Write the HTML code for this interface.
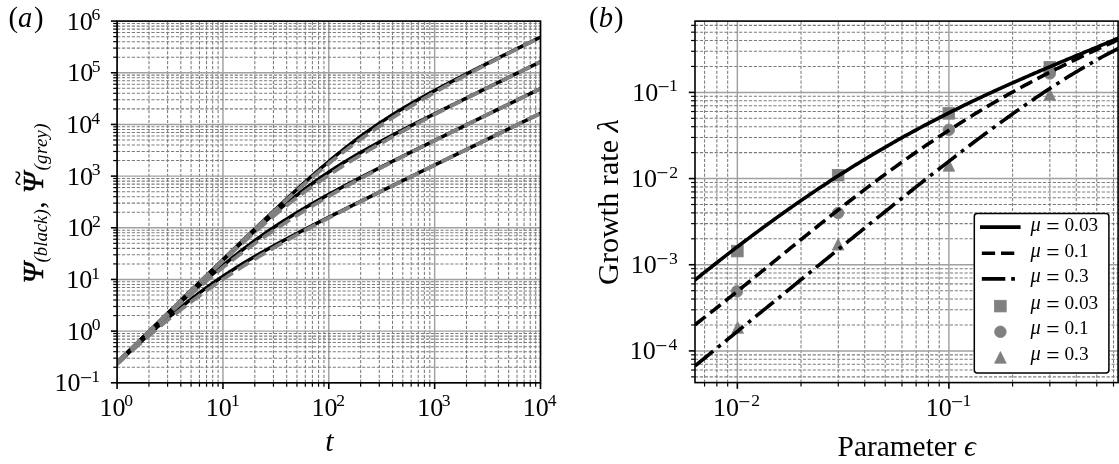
<!DOCTYPE html>
<html><head><meta charset="utf-8"><title>Figure</title>
<style>html,body{margin:0;padding:0;background:#fff;}svg{display:block;}</style>
</head><body>
<svg width="1119" height="464" viewBox="0 0 1119 464">
<rect width="1119" height="464" fill="#fff"/>
<defs><clipPath id="ca"><rect x="117.1" y="21.1" width="423.4" height="361.7"/></clipPath>
<clipPath id="cb"><rect x="695" y="21.1" width="423.1" height="361.5"/></clipPath></defs>
<g>
<line x1="117.1" y1="382.8" x2="117.1" y2="21.1" stroke="#a0a0a0" stroke-width="1.45" stroke-linecap="butt"/>
<line x1="222.95" y1="382.8" x2="222.95" y2="21.1" stroke="#a0a0a0" stroke-width="1.45" stroke-linecap="butt"/>
<line x1="328.8" y1="382.8" x2="328.8" y2="21.1" stroke="#a0a0a0" stroke-width="1.45" stroke-linecap="butt"/>
<line x1="434.65" y1="382.8" x2="434.65" y2="21.1" stroke="#a0a0a0" stroke-width="1.45" stroke-linecap="butt"/>
<line x1="540.5" y1="382.8" x2="540.5" y2="21.1" stroke="#a0a0a0" stroke-width="1.45" stroke-linecap="butt"/>
<line x1="148.96" y1="382.8" x2="148.96" y2="21.1" stroke="#7c7c7c" stroke-width="1.05" stroke-linecap="butt" stroke-dasharray="3.2 1.7"/>
<line x1="167.6" y1="382.8" x2="167.6" y2="21.1" stroke="#7c7c7c" stroke-width="1.05" stroke-linecap="butt" stroke-dasharray="3.2 1.7"/>
<line x1="180.83" y1="382.8" x2="180.83" y2="21.1" stroke="#7c7c7c" stroke-width="1.05" stroke-linecap="butt" stroke-dasharray="3.2 1.7"/>
<line x1="191.09" y1="382.8" x2="191.09" y2="21.1" stroke="#7c7c7c" stroke-width="1.05" stroke-linecap="butt" stroke-dasharray="3.2 1.7"/>
<line x1="199.47" y1="382.8" x2="199.47" y2="21.1" stroke="#7c7c7c" stroke-width="1.05" stroke-linecap="butt" stroke-dasharray="3.2 1.7"/>
<line x1="206.55" y1="382.8" x2="206.55" y2="21.1" stroke="#7c7c7c" stroke-width="1.05" stroke-linecap="butt" stroke-dasharray="3.2 1.7"/>
<line x1="212.69" y1="382.8" x2="212.69" y2="21.1" stroke="#7c7c7c" stroke-width="1.05" stroke-linecap="butt" stroke-dasharray="3.2 1.7"/>
<line x1="218.11" y1="382.8" x2="218.11" y2="21.1" stroke="#7c7c7c" stroke-width="1.05" stroke-linecap="butt" stroke-dasharray="3.2 1.7"/>
<line x1="254.81" y1="382.8" x2="254.81" y2="21.1" stroke="#7c7c7c" stroke-width="1.05" stroke-linecap="butt" stroke-dasharray="3.2 1.7"/>
<line x1="273.45" y1="382.8" x2="273.45" y2="21.1" stroke="#7c7c7c" stroke-width="1.05" stroke-linecap="butt" stroke-dasharray="3.2 1.7"/>
<line x1="286.68" y1="382.8" x2="286.68" y2="21.1" stroke="#7c7c7c" stroke-width="1.05" stroke-linecap="butt" stroke-dasharray="3.2 1.7"/>
<line x1="296.94" y1="382.8" x2="296.94" y2="21.1" stroke="#7c7c7c" stroke-width="1.05" stroke-linecap="butt" stroke-dasharray="3.2 1.7"/>
<line x1="305.32" y1="382.8" x2="305.32" y2="21.1" stroke="#7c7c7c" stroke-width="1.05" stroke-linecap="butt" stroke-dasharray="3.2 1.7"/>
<line x1="312.4" y1="382.8" x2="312.4" y2="21.1" stroke="#7c7c7c" stroke-width="1.05" stroke-linecap="butt" stroke-dasharray="3.2 1.7"/>
<line x1="318.54" y1="382.8" x2="318.54" y2="21.1" stroke="#7c7c7c" stroke-width="1.05" stroke-linecap="butt" stroke-dasharray="3.2 1.7"/>
<line x1="323.96" y1="382.8" x2="323.96" y2="21.1" stroke="#7c7c7c" stroke-width="1.05" stroke-linecap="butt" stroke-dasharray="3.2 1.7"/>
<line x1="360.66" y1="382.8" x2="360.66" y2="21.1" stroke="#7c7c7c" stroke-width="1.05" stroke-linecap="butt" stroke-dasharray="3.2 1.7"/>
<line x1="379.3" y1="382.8" x2="379.3" y2="21.1" stroke="#7c7c7c" stroke-width="1.05" stroke-linecap="butt" stroke-dasharray="3.2 1.7"/>
<line x1="392.53" y1="382.8" x2="392.53" y2="21.1" stroke="#7c7c7c" stroke-width="1.05" stroke-linecap="butt" stroke-dasharray="3.2 1.7"/>
<line x1="402.79" y1="382.8" x2="402.79" y2="21.1" stroke="#7c7c7c" stroke-width="1.05" stroke-linecap="butt" stroke-dasharray="3.2 1.7"/>
<line x1="411.17" y1="382.8" x2="411.17" y2="21.1" stroke="#7c7c7c" stroke-width="1.05" stroke-linecap="butt" stroke-dasharray="3.2 1.7"/>
<line x1="418.25" y1="382.8" x2="418.25" y2="21.1" stroke="#7c7c7c" stroke-width="1.05" stroke-linecap="butt" stroke-dasharray="3.2 1.7"/>
<line x1="424.39" y1="382.8" x2="424.39" y2="21.1" stroke="#7c7c7c" stroke-width="1.05" stroke-linecap="butt" stroke-dasharray="3.2 1.7"/>
<line x1="429.81" y1="382.8" x2="429.81" y2="21.1" stroke="#7c7c7c" stroke-width="1.05" stroke-linecap="butt" stroke-dasharray="3.2 1.7"/>
<line x1="466.51" y1="382.8" x2="466.51" y2="21.1" stroke="#7c7c7c" stroke-width="1.05" stroke-linecap="butt" stroke-dasharray="3.2 1.7"/>
<line x1="485.15" y1="382.8" x2="485.15" y2="21.1" stroke="#7c7c7c" stroke-width="1.05" stroke-linecap="butt" stroke-dasharray="3.2 1.7"/>
<line x1="498.38" y1="382.8" x2="498.38" y2="21.1" stroke="#7c7c7c" stroke-width="1.05" stroke-linecap="butt" stroke-dasharray="3.2 1.7"/>
<line x1="508.64" y1="382.8" x2="508.64" y2="21.1" stroke="#7c7c7c" stroke-width="1.05" stroke-linecap="butt" stroke-dasharray="3.2 1.7"/>
<line x1="517.02" y1="382.8" x2="517.02" y2="21.1" stroke="#7c7c7c" stroke-width="1.05" stroke-linecap="butt" stroke-dasharray="3.2 1.7"/>
<line x1="524.1" y1="382.8" x2="524.1" y2="21.1" stroke="#7c7c7c" stroke-width="1.05" stroke-linecap="butt" stroke-dasharray="3.2 1.7"/>
<line x1="530.24" y1="382.8" x2="530.24" y2="21.1" stroke="#7c7c7c" stroke-width="1.05" stroke-linecap="butt" stroke-dasharray="3.2 1.7"/>
<line x1="535.66" y1="382.8" x2="535.66" y2="21.1" stroke="#7c7c7c" stroke-width="1.05" stroke-linecap="butt" stroke-dasharray="3.2 1.7"/>
<line x1="117.1" y1="382.8" x2="540.5" y2="382.8" stroke="#a0a0a0" stroke-width="1.45" stroke-linecap="butt"/>
<line x1="117.1" y1="331.13" x2="540.5" y2="331.13" stroke="#a0a0a0" stroke-width="1.45" stroke-linecap="butt"/>
<line x1="117.1" y1="279.46" x2="540.5" y2="279.46" stroke="#a0a0a0" stroke-width="1.45" stroke-linecap="butt"/>
<line x1="117.1" y1="227.79" x2="540.5" y2="227.79" stroke="#a0a0a0" stroke-width="1.45" stroke-linecap="butt"/>
<line x1="117.1" y1="176.11" x2="540.5" y2="176.11" stroke="#a0a0a0" stroke-width="1.45" stroke-linecap="butt"/>
<line x1="117.1" y1="124.44" x2="540.5" y2="124.44" stroke="#a0a0a0" stroke-width="1.45" stroke-linecap="butt"/>
<line x1="117.1" y1="72.77" x2="540.5" y2="72.77" stroke="#a0a0a0" stroke-width="1.45" stroke-linecap="butt"/>
<line x1="117.1" y1="21.1" x2="540.5" y2="21.1" stroke="#a0a0a0" stroke-width="1.45" stroke-linecap="butt"/>
<line x1="117.1" y1="367.25" x2="540.5" y2="367.25" stroke="#7c7c7c" stroke-width="1.05" stroke-linecap="butt" stroke-dasharray="3.2 1.7"/>
<line x1="117.1" y1="358.15" x2="540.5" y2="358.15" stroke="#7c7c7c" stroke-width="1.05" stroke-linecap="butt" stroke-dasharray="3.2 1.7"/>
<line x1="117.1" y1="351.69" x2="540.5" y2="351.69" stroke="#7c7c7c" stroke-width="1.05" stroke-linecap="butt" stroke-dasharray="3.2 1.7"/>
<line x1="117.1" y1="346.68" x2="540.5" y2="346.68" stroke="#7c7c7c" stroke-width="1.05" stroke-linecap="butt" stroke-dasharray="3.2 1.7"/>
<line x1="117.1" y1="342.59" x2="540.5" y2="342.59" stroke="#7c7c7c" stroke-width="1.05" stroke-linecap="butt" stroke-dasharray="3.2 1.7"/>
<line x1="117.1" y1="339.13" x2="540.5" y2="339.13" stroke="#7c7c7c" stroke-width="1.05" stroke-linecap="butt" stroke-dasharray="3.2 1.7"/>
<line x1="117.1" y1="336.14" x2="540.5" y2="336.14" stroke="#7c7c7c" stroke-width="1.05" stroke-linecap="butt" stroke-dasharray="3.2 1.7"/>
<line x1="117.1" y1="333.49" x2="540.5" y2="333.49" stroke="#7c7c7c" stroke-width="1.05" stroke-linecap="butt" stroke-dasharray="3.2 1.7"/>
<line x1="117.1" y1="315.57" x2="540.5" y2="315.57" stroke="#7c7c7c" stroke-width="1.05" stroke-linecap="butt" stroke-dasharray="3.2 1.7"/>
<line x1="117.1" y1="306.48" x2="540.5" y2="306.48" stroke="#7c7c7c" stroke-width="1.05" stroke-linecap="butt" stroke-dasharray="3.2 1.7"/>
<line x1="117.1" y1="300.02" x2="540.5" y2="300.02" stroke="#7c7c7c" stroke-width="1.05" stroke-linecap="butt" stroke-dasharray="3.2 1.7"/>
<line x1="117.1" y1="295.01" x2="540.5" y2="295.01" stroke="#7c7c7c" stroke-width="1.05" stroke-linecap="butt" stroke-dasharray="3.2 1.7"/>
<line x1="117.1" y1="290.92" x2="540.5" y2="290.92" stroke="#7c7c7c" stroke-width="1.05" stroke-linecap="butt" stroke-dasharray="3.2 1.7"/>
<line x1="117.1" y1="287.46" x2="540.5" y2="287.46" stroke="#7c7c7c" stroke-width="1.05" stroke-linecap="butt" stroke-dasharray="3.2 1.7"/>
<line x1="117.1" y1="284.46" x2="540.5" y2="284.46" stroke="#7c7c7c" stroke-width="1.05" stroke-linecap="butt" stroke-dasharray="3.2 1.7"/>
<line x1="117.1" y1="281.82" x2="540.5" y2="281.82" stroke="#7c7c7c" stroke-width="1.05" stroke-linecap="butt" stroke-dasharray="3.2 1.7"/>
<line x1="117.1" y1="263.9" x2="540.5" y2="263.9" stroke="#7c7c7c" stroke-width="1.05" stroke-linecap="butt" stroke-dasharray="3.2 1.7"/>
<line x1="117.1" y1="254.8" x2="540.5" y2="254.8" stroke="#7c7c7c" stroke-width="1.05" stroke-linecap="butt" stroke-dasharray="3.2 1.7"/>
<line x1="117.1" y1="248.35" x2="540.5" y2="248.35" stroke="#7c7c7c" stroke-width="1.05" stroke-linecap="butt" stroke-dasharray="3.2 1.7"/>
<line x1="117.1" y1="243.34" x2="540.5" y2="243.34" stroke="#7c7c7c" stroke-width="1.05" stroke-linecap="butt" stroke-dasharray="3.2 1.7"/>
<line x1="117.1" y1="239.25" x2="540.5" y2="239.25" stroke="#7c7c7c" stroke-width="1.05" stroke-linecap="butt" stroke-dasharray="3.2 1.7"/>
<line x1="117.1" y1="235.79" x2="540.5" y2="235.79" stroke="#7c7c7c" stroke-width="1.05" stroke-linecap="butt" stroke-dasharray="3.2 1.7"/>
<line x1="117.1" y1="232.79" x2="540.5" y2="232.79" stroke="#7c7c7c" stroke-width="1.05" stroke-linecap="butt" stroke-dasharray="3.2 1.7"/>
<line x1="117.1" y1="230.15" x2="540.5" y2="230.15" stroke="#7c7c7c" stroke-width="1.05" stroke-linecap="butt" stroke-dasharray="3.2 1.7"/>
<line x1="117.1" y1="212.23" x2="540.5" y2="212.23" stroke="#7c7c7c" stroke-width="1.05" stroke-linecap="butt" stroke-dasharray="3.2 1.7"/>
<line x1="117.1" y1="203.13" x2="540.5" y2="203.13" stroke="#7c7c7c" stroke-width="1.05" stroke-linecap="butt" stroke-dasharray="3.2 1.7"/>
<line x1="117.1" y1="196.68" x2="540.5" y2="196.68" stroke="#7c7c7c" stroke-width="1.05" stroke-linecap="butt" stroke-dasharray="3.2 1.7"/>
<line x1="117.1" y1="191.67" x2="540.5" y2="191.67" stroke="#7c7c7c" stroke-width="1.05" stroke-linecap="butt" stroke-dasharray="3.2 1.7"/>
<line x1="117.1" y1="187.58" x2="540.5" y2="187.58" stroke="#7c7c7c" stroke-width="1.05" stroke-linecap="butt" stroke-dasharray="3.2 1.7"/>
<line x1="117.1" y1="184.12" x2="540.5" y2="184.12" stroke="#7c7c7c" stroke-width="1.05" stroke-linecap="butt" stroke-dasharray="3.2 1.7"/>
<line x1="117.1" y1="181.12" x2="540.5" y2="181.12" stroke="#7c7c7c" stroke-width="1.05" stroke-linecap="butt" stroke-dasharray="3.2 1.7"/>
<line x1="117.1" y1="178.48" x2="540.5" y2="178.48" stroke="#7c7c7c" stroke-width="1.05" stroke-linecap="butt" stroke-dasharray="3.2 1.7"/>
<line x1="117.1" y1="160.56" x2="540.5" y2="160.56" stroke="#7c7c7c" stroke-width="1.05" stroke-linecap="butt" stroke-dasharray="3.2 1.7"/>
<line x1="117.1" y1="151.46" x2="540.5" y2="151.46" stroke="#7c7c7c" stroke-width="1.05" stroke-linecap="butt" stroke-dasharray="3.2 1.7"/>
<line x1="117.1" y1="145" x2="540.5" y2="145" stroke="#7c7c7c" stroke-width="1.05" stroke-linecap="butt" stroke-dasharray="3.2 1.7"/>
<line x1="117.1" y1="140" x2="540.5" y2="140" stroke="#7c7c7c" stroke-width="1.05" stroke-linecap="butt" stroke-dasharray="3.2 1.7"/>
<line x1="117.1" y1="135.91" x2="540.5" y2="135.91" stroke="#7c7c7c" stroke-width="1.05" stroke-linecap="butt" stroke-dasharray="3.2 1.7"/>
<line x1="117.1" y1="132.45" x2="540.5" y2="132.45" stroke="#7c7c7c" stroke-width="1.05" stroke-linecap="butt" stroke-dasharray="3.2 1.7"/>
<line x1="117.1" y1="129.45" x2="540.5" y2="129.45" stroke="#7c7c7c" stroke-width="1.05" stroke-linecap="butt" stroke-dasharray="3.2 1.7"/>
<line x1="117.1" y1="126.81" x2="540.5" y2="126.81" stroke="#7c7c7c" stroke-width="1.05" stroke-linecap="butt" stroke-dasharray="3.2 1.7"/>
<line x1="117.1" y1="108.89" x2="540.5" y2="108.89" stroke="#7c7c7c" stroke-width="1.05" stroke-linecap="butt" stroke-dasharray="3.2 1.7"/>
<line x1="117.1" y1="99.79" x2="540.5" y2="99.79" stroke="#7c7c7c" stroke-width="1.05" stroke-linecap="butt" stroke-dasharray="3.2 1.7"/>
<line x1="117.1" y1="93.33" x2="540.5" y2="93.33" stroke="#7c7c7c" stroke-width="1.05" stroke-linecap="butt" stroke-dasharray="3.2 1.7"/>
<line x1="117.1" y1="88.33" x2="540.5" y2="88.33" stroke="#7c7c7c" stroke-width="1.05" stroke-linecap="butt" stroke-dasharray="3.2 1.7"/>
<line x1="117.1" y1="84.23" x2="540.5" y2="84.23" stroke="#7c7c7c" stroke-width="1.05" stroke-linecap="butt" stroke-dasharray="3.2 1.7"/>
<line x1="117.1" y1="80.78" x2="540.5" y2="80.78" stroke="#7c7c7c" stroke-width="1.05" stroke-linecap="butt" stroke-dasharray="3.2 1.7"/>
<line x1="117.1" y1="77.78" x2="540.5" y2="77.78" stroke="#7c7c7c" stroke-width="1.05" stroke-linecap="butt" stroke-dasharray="3.2 1.7"/>
<line x1="117.1" y1="75.14" x2="540.5" y2="75.14" stroke="#7c7c7c" stroke-width="1.05" stroke-linecap="butt" stroke-dasharray="3.2 1.7"/>
<line x1="117.1" y1="57.22" x2="540.5" y2="57.22" stroke="#7c7c7c" stroke-width="1.05" stroke-linecap="butt" stroke-dasharray="3.2 1.7"/>
<line x1="117.1" y1="48.12" x2="540.5" y2="48.12" stroke="#7c7c7c" stroke-width="1.05" stroke-linecap="butt" stroke-dasharray="3.2 1.7"/>
<line x1="117.1" y1="41.66" x2="540.5" y2="41.66" stroke="#7c7c7c" stroke-width="1.05" stroke-linecap="butt" stroke-dasharray="3.2 1.7"/>
<line x1="117.1" y1="36.65" x2="540.5" y2="36.65" stroke="#7c7c7c" stroke-width="1.05" stroke-linecap="butt" stroke-dasharray="3.2 1.7"/>
<line x1="117.1" y1="32.56" x2="540.5" y2="32.56" stroke="#7c7c7c" stroke-width="1.05" stroke-linecap="butt" stroke-dasharray="3.2 1.7"/>
<line x1="117.1" y1="29.1" x2="540.5" y2="29.1" stroke="#7c7c7c" stroke-width="1.05" stroke-linecap="butt" stroke-dasharray="3.2 1.7"/>
<line x1="117.1" y1="26.11" x2="540.5" y2="26.11" stroke="#7c7c7c" stroke-width="1.05" stroke-linecap="butt" stroke-dasharray="3.2 1.7"/>
<line x1="117.1" y1="23.46" x2="540.5" y2="23.46" stroke="#7c7c7c" stroke-width="1.05" stroke-linecap="butt" stroke-dasharray="3.2 1.7"/>
</g>
<g clip-path="url(#ca)">
<polyline points="117.1,362.69 117.71,362.09 118.31,361.5 118.92,360.91 119.52,360.32 120.13,359.73 120.73,359.14 121.34,358.55 121.95,357.96 122.55,357.37 123.16,356.77 123.76,356.18 124.37,355.59 124.97,355 125.58,354.41 126.19,353.82 126.79,353.23 127.4,352.64 128,352.05 128.61,351.45 129.21,350.86 129.82,350.27 130.43,349.68 131.03,349.09 131.64,348.5 132.24,347.91 132.85,347.32 133.45,346.73 134.06,346.14 134.67,345.54 135.27,344.95 135.88,344.36 136.48,343.77 137.09,343.18 137.69,342.59 138.3,342 138.91,341.41 139.51,340.82 140.12,340.23 140.72,339.63 141.33,339.04 141.93,338.45 142.54,337.86 143.15,337.27 143.75,336.68 144.36,336.09 144.96,335.5 145.57,334.91 146.17,334.32 146.78,333.73 147.39,333.14 147.99,332.54 148.6,331.95 149.2,331.36 149.81,330.77 150.41,330.18 151.02,329.59 151.63,329 152.23,328.41 152.84,327.82 153.44,327.23 154.05,326.64 154.65,326.05 155.26,325.46 155.87,324.87 156.47,324.27 157.08,323.68 157.68,323.09 158.29,322.5 158.89,321.91 159.5,321.32 160.11,320.73 160.71,320.14 161.32,319.55 161.92,318.96 162.53,318.37 163.13,317.78 163.74,317.19 164.35,316.6 164.95,316.01 165.56,315.42 166.16,314.83 166.77,314.24 167.37,313.65 167.98,313.05 168.59,312.46 169.19,311.87 169.8,311.28 170.4,310.69 171.01,310.1 171.62,309.51 172.22,308.92 172.83,308.33 173.43,307.74 174.04,307.15 174.64,306.56 175.25,305.97 175.86,305.38 176.46,304.79 177.07,304.2 177.67,303.61 178.28,303.02 178.88,302.43 179.49,301.84 180.1,301.25 180.7,300.66 181.31,300.07 181.91,299.48 182.52,298.89 183.12,298.3 183.73,297.71 184.34,297.12 184.94,296.53 185.55,295.94 186.15,295.35 186.76,294.76 187.36,294.17 187.97,293.58 188.58,293 189.18,292.41 189.79,291.82 190.39,291.23 191,290.64 191.6,290.05 192.21,289.46 192.82,288.87 193.42,288.28 194.03,287.69 194.63,287.1 195.24,286.51 195.84,285.92 196.45,285.33 197.06,284.75 197.66,284.16 198.27,283.57 198.87,282.98 199.48,282.39 200.08,281.8 200.69,281.21 201.3,280.62 201.9,280.04 202.51,279.45 203.11,278.86 203.72,278.27 204.32,277.68 204.93,277.09 205.54,276.5 206.14,275.92 206.75,275.33 207.35,274.74 207.96,274.15 208.56,273.56 209.17,272.98 209.78,272.39 210.38,271.8 210.99,271.21 211.59,270.62 212.2,270.04 212.8,269.45 213.41,268.86 214.02,268.27 214.62,267.69 215.23,267.1 215.83,266.51 216.44,265.92 217.04,265.34 217.65,264.75 218.26,264.16 218.86,263.58 219.47,262.99 220.07,262.4 220.68,261.82 221.28,261.23 221.89,260.64 222.5,260.06 223.1,259.47 223.71,258.88 224.31,258.3 224.92,257.71 225.52,257.13 226.13,256.54 226.74,255.95 227.34,255.37 227.95,254.78 228.55,254.2 229.16,253.61 229.76,253.03 230.37,252.44 230.98,251.86 231.58,251.27 232.19,250.69 232.79,250.1 233.4,249.52 234,248.93 234.61,248.35 235.22,247.76 235.82,247.18 236.43,246.6 237.03,246.01 237.64,245.43 238.24,244.84 238.85,244.26 239.46,243.68 240.06,243.09 240.67,242.51 241.27,241.93 241.88,241.35 242.48,240.76 243.09,240.18 243.7,239.6 244.3,239.02 244.91,238.43 245.51,237.85 246.12,237.27 246.72,236.69 247.33,236.11 247.94,235.53 248.54,234.95 249.15,234.37 249.75,233.79 250.36,233.2 250.96,232.62 251.57,232.04 252.18,231.46 252.78,230.89 253.39,230.31 253.99,229.73 254.6,229.15 255.2,228.57 255.81,227.99 256.42,227.41 257.02,226.83 257.63,226.26 258.23,225.68 258.84,225.1 259.44,224.52 260.05,223.95 260.66,223.37 261.26,222.79 261.87,222.22 262.47,221.64 263.08,221.07 263.68,220.49 264.29,219.92 264.9,219.34 265.5,218.77 266.11,218.19 266.71,217.62 267.32,217.04 267.92,216.47 268.53,215.9 269.14,215.32 269.74,214.75 270.35,214.18 270.95,213.61 271.56,213.04 272.16,212.47 272.77,211.89 273.38,211.32 273.98,210.75 274.59,210.18 275.19,209.62 275.8,209.05 276.41,208.48 277.01,207.91 277.62,207.34 278.22,206.77 278.83,206.21 279.43,205.64 280.04,205.07 280.65,204.51 281.25,203.94 281.86,203.38 282.46,202.81 283.07,202.25 283.67,201.68 284.28,201.12 284.89,200.56 285.49,200 286.1,199.43 286.7,198.87 287.31,198.31 287.91,197.75 288.52,197.19 289.13,196.63 289.73,196.07 290.34,195.51 290.94,194.96 291.55,194.4 292.15,193.84 292.76,193.28 293.37,192.73 293.97,192.17 294.58,191.62 295.18,191.07 295.79,190.51 296.39,189.96 297,189.41 297.61,188.85 298.21,188.3 298.82,187.75 299.42,187.2 300.03,186.65 300.63,186.11 301.24,185.56 301.85,185.01 302.45,184.46 303.06,183.92 303.66,183.37 304.27,182.83 304.87,182.28 305.48,181.74 306.09,181.2 306.69,180.66 307.3,180.12 307.9,179.58 308.51,179.04 309.11,178.5 309.72,177.96 310.33,177.42 310.93,176.89 311.54,176.35 312.14,175.82 312.75,175.28 313.35,174.75 313.96,174.22 314.57,173.69 315.17,173.16 315.78,172.63 316.38,172.1 316.99,171.57 317.59,171.04 318.2,170.52 318.81,169.99 319.41,169.47 320.02,168.95 320.62,168.42 321.23,167.9 321.83,167.38 322.44,166.86 323.05,166.34 323.65,165.83 324.26,165.31 324.86,164.8 325.47,164.28 326.07,163.77 326.68,163.25 327.29,162.74 327.89,162.23 328.5,161.72 329.1,161.22 329.71,160.71 330.31,160.2 330.92,159.7 331.53,159.19 332.13,158.69 332.74,158.19 333.34,157.69 333.95,157.19 334.55,156.69 335.16,156.19 335.77,155.7 336.37,155.2 336.98,154.71 337.58,154.22 338.19,153.73 338.79,153.24 339.4,152.75 340.01,152.26 340.61,151.77 341.22,151.29 341.82,150.8 342.43,150.32 343.03,149.84 343.64,149.36 344.25,148.88 344.85,148.4 345.46,147.92 346.06,147.45 346.67,146.97 347.27,146.5 347.88,146.03 348.49,145.56 349.09,145.09 349.7,144.62 350.3,144.16 350.91,143.69 351.51,143.23 352.12,142.76 352.73,142.3 353.33,141.84 353.94,141.38 354.54,140.93 355.15,140.47 355.75,140.01 356.36,139.56 356.97,139.11 357.57,138.66 358.18,138.21 358.78,137.76 359.39,137.31 359.99,136.87 360.6,136.42 361.21,135.98 361.81,135.54 362.42,135.1 363.02,134.66 363.63,134.22 364.23,133.78 364.84,133.35 365.45,132.91 366.05,132.48 366.66,132.05 367.26,131.62 367.87,131.19 368.47,130.76 369.08,130.34 369.69,129.91 370.29,129.49 370.9,129.07 371.5,128.65 372.11,128.23 372.71,127.81 373.32,127.39 373.93,126.98 374.53,126.56 375.14,126.15 375.74,125.74 376.35,125.33 376.95,124.92 377.56,124.51 378.17,124.1 378.77,123.7 379.38,123.29 379.98,122.89 380.59,122.49 381.19,122.09 381.8,121.69 382.41,121.29 383.01,120.89 383.62,120.49 384.22,120.1 384.83,119.7 385.44,119.31 386.04,118.92 386.65,118.53 387.25,118.14 387.86,117.75 388.46,117.37 389.07,116.98 389.68,116.6 390.28,116.21 390.89,115.83 391.49,115.45 392.1,115.07 392.7,114.69 393.31,114.31 393.92,113.93 394.52,113.56 395.13,113.18 395.73,112.81 396.34,112.44 396.94,112.06 397.55,111.69 398.16,111.32 398.76,110.95 399.37,110.59 399.97,110.22 400.58,109.85 401.18,109.49 401.79,109.12 402.4,108.76 403,108.4 403.61,108.04 404.21,107.68 404.82,107.32 405.42,106.96 406.03,106.6 406.64,106.24 407.24,105.89 407.85,105.53 408.45,105.18 409.06,104.82 409.66,104.47 410.27,104.12 410.88,103.77 411.48,103.42 412.09,103.07 412.69,102.72 413.3,102.37 413.9,102.03 414.51,101.68 415.12,101.33 415.72,100.99 416.33,100.64 416.93,100.3 417.54,99.96 418.14,99.62 418.75,99.27 419.36,98.93 419.96,98.59 420.57,98.25 421.17,97.92 421.78,97.58 422.38,97.24 422.99,96.9 423.6,96.57 424.2,96.23 424.81,95.9 425.41,95.56 426.02,95.23 426.62,94.9 427.23,94.56 427.84,94.23 428.44,93.9 429.05,93.57 429.65,93.24 430.26,92.91 430.86,92.58 431.47,92.25 432.08,91.92 432.68,91.59 433.29,91.27 433.89,90.94 434.5,90.61 435.1,90.29 435.71,89.96 436.32,89.64 436.92,89.31 437.53,88.99 438.13,88.67 438.74,88.34 439.34,88.02 439.95,87.7 440.56,87.38 441.16,87.06 441.77,86.74 442.37,86.41 442.98,86.09 443.58,85.78 444.19,85.46 444.8,85.14 445.4,84.82 446.01,84.5 446.61,84.18 447.22,83.87 447.82,83.55 448.43,83.23 449.04,82.92 449.64,82.6 450.25,82.28 450.85,81.97 451.46,81.65 452.06,81.34 452.67,81.02 453.28,80.71 453.88,80.4 454.49,80.08 455.09,79.77 455.7,79.46 456.3,79.14 456.91,78.83 457.52,78.52 458.12,78.21 458.73,77.9 459.33,77.59 459.94,77.27 460.54,76.96 461.15,76.65 461.76,76.34 462.36,76.03 462.97,75.72 463.57,75.41 464.18,75.1 464.78,74.8 465.39,74.49 466,74.18 466.6,73.87 467.21,73.56 467.81,73.25 468.42,72.95 469.02,72.64 469.63,72.33 470.24,72.02 470.84,71.72 471.45,71.41 472.05,71.1 472.66,70.8 473.26,70.49 473.87,70.19 474.48,69.88 475.08,69.57 475.69,69.27 476.29,68.96 476.9,68.66 477.5,68.35 478.11,68.05 478.72,67.74 479.32,67.44 479.93,67.13 480.53,66.83 481.14,66.53 481.74,66.22 482.35,65.92 482.96,65.61 483.56,65.31 484.17,65.01 484.77,64.7 485.38,64.4 485.98,64.1 486.59,63.8 487.2,63.49 487.8,63.19 488.41,62.89 489.01,62.59 489.62,62.28 490.23,61.98 490.83,61.68 491.44,61.38 492.04,61.08 492.65,60.77 493.25,60.47 493.86,60.17 494.47,59.87 495.07,59.57 495.68,59.27 496.28,58.97 496.89,58.66 497.49,58.36 498.1,58.06 498.71,57.76 499.31,57.46 499.92,57.16 500.52,56.86 501.13,56.56 501.73,56.26 502.34,55.96 502.95,55.66 503.55,55.36 504.16,55.06 504.76,54.76 505.37,54.46 505.97,54.16 506.58,53.86 507.19,53.56 507.79,53.26 508.4,52.96 509,52.66 509.61,52.36 510.21,52.06 510.82,51.76 511.43,51.46 512.03,51.16 512.64,50.87 513.24,50.57 513.85,50.27 514.45,49.97 515.06,49.67 515.67,49.37 516.27,49.07 516.88,48.77 517.48,48.48 518.09,48.18 518.69,47.88 519.3,47.58 519.91,47.28 520.51,46.98 521.12,46.68 521.72,46.39 522.33,46.09 522.93,45.79 523.54,45.49 524.15,45.19 524.75,44.9 525.36,44.6 525.96,44.3 526.57,44 527.17,43.7 527.78,43.41 528.39,43.11 528.99,42.81 529.6,42.51 530.2,42.21 530.81,41.92 531.41,41.62 532.02,41.32 532.63,41.02 533.23,40.73 533.84,40.43 534.44,40.13 535.05,39.83 535.65,39.54 536.26,39.24 536.87,38.94 537.47,38.64 538.08,38.35 538.68,38.05 539.29,37.75 539.89,37.46 540.5,37.16" fill="none" stroke="#000" stroke-width="3.5" stroke-linecap="square" stroke-linejoin="round"/>
<polyline points="117.1,362.66 117.71,362.07 118.31,361.48 118.92,360.89 119.52,360.29 120.13,359.7 120.73,359.11 121.34,358.52 121.95,357.93 122.55,357.34 123.16,356.75 123.76,356.16 124.37,355.57 124.97,354.98 125.58,354.39 126.19,353.8 126.79,353.21 127.4,352.62 128,352.03 128.61,351.44 129.21,350.85 129.82,350.26 130.43,349.67 131.03,349.08 131.64,348.49 132.24,347.9 132.85,347.31 133.45,346.72 134.06,346.13 134.67,345.54 135.27,344.95 135.88,344.36 136.48,343.77 137.09,343.18 137.69,342.59 138.3,342 138.91,341.41 139.51,340.82 140.12,340.23 140.72,339.64 141.33,339.05 141.93,338.46 142.54,337.87 143.15,337.28 143.75,336.69 144.36,336.1 144.96,335.51 145.57,334.92 146.17,334.33 146.78,333.74 147.39,333.15 147.99,332.56 148.6,331.97 149.2,331.38 149.81,330.79 150.41,330.2 151.02,329.61 151.63,329.02 152.23,328.43 152.84,327.85 153.44,327.26 154.05,326.67 154.65,326.08 155.26,325.49 155.87,324.9 156.47,324.31 157.08,323.72 157.68,323.13 158.29,322.55 158.89,321.96 159.5,321.37 160.11,320.78 160.71,320.19 161.32,319.6 161.92,319.01 162.53,318.43 163.13,317.84 163.74,317.25 164.35,316.66 164.95,316.07 165.56,315.48 166.16,314.9 166.77,314.31 167.37,313.72 167.98,313.13 168.59,312.54 169.19,311.96 169.8,311.37 170.4,310.78 171.01,310.19 171.62,309.61 172.22,309.02 172.83,308.43 173.43,307.84 174.04,307.26 174.64,306.67 175.25,306.08 175.86,305.5 176.46,304.91 177.07,304.32 177.67,303.74 178.28,303.15 178.88,302.56 179.49,301.98 180.1,301.39 180.7,300.8 181.31,300.22 181.91,299.63 182.52,299.05 183.12,298.46 183.73,297.88 184.34,297.29 184.94,296.7 185.55,296.12 186.15,295.53 186.76,294.95 187.36,294.36 187.97,293.78 188.58,293.19 189.18,292.61 189.79,292.02 190.39,291.44 191,290.86 191.6,290.27 192.21,289.69 192.82,289.1 193.42,288.52 194.03,287.94 194.63,287.35 195.24,286.77 195.84,286.19 196.45,285.6 197.06,285.02 197.66,284.44 198.27,283.86 198.87,283.27 199.48,282.69 200.08,282.11 200.69,281.53 201.3,280.95 201.9,280.36 202.51,279.78 203.11,279.2 203.72,278.62 204.32,278.04 204.93,277.46 205.54,276.88 206.14,276.3 206.75,275.72 207.35,275.14 207.96,274.56 208.56,273.98 209.17,273.4 209.78,272.82 210.38,272.24 210.99,271.66 211.59,271.09 212.2,270.51 212.8,269.93 213.41,269.35 214.02,268.78 214.62,268.2 215.23,267.62 215.83,267.05 216.44,266.47 217.04,265.89 217.65,265.32 218.26,264.74 218.86,264.17 219.47,263.59 220.07,263.02 220.68,262.44 221.28,261.87 221.89,261.3 222.5,260.72 223.1,260.15 223.71,259.58 224.31,259.01 224.92,258.43 225.52,257.86 226.13,257.29 226.74,256.72 227.34,256.15 227.95,255.58 228.55,255.01 229.16,254.44 229.76,253.87 230.37,253.3 230.98,252.74 231.58,252.17 232.19,251.6 232.79,251.03 233.4,250.47 234,249.9 234.61,249.34 235.22,248.77 235.82,248.21 236.43,247.64 237.03,247.08 237.64,246.51 238.24,245.95 238.85,245.39 239.46,244.83 240.06,244.27 240.67,243.7 241.27,243.14 241.88,242.58 242.48,242.03 243.09,241.47 243.7,240.91 244.3,240.35 244.91,239.79 245.51,239.24 246.12,238.68 246.72,238.13 247.33,237.57 247.94,237.02 248.54,236.46 249.15,235.91 249.75,235.36 250.36,234.81 250.96,234.26 251.57,233.71 252.18,233.16 252.78,232.61 253.39,232.06 253.99,231.51 254.6,230.96 255.2,230.42 255.81,229.87 256.42,229.33 257.02,228.78 257.63,228.24 258.23,227.7 258.84,227.16 259.44,226.62 260.05,226.08 260.66,225.54 261.26,225 261.87,224.46 262.47,223.92 263.08,223.39 263.68,222.85 264.29,222.32 264.9,221.79 265.5,221.25 266.11,220.72 266.71,220.19 267.32,219.66 267.92,219.13 268.53,218.61 269.14,218.08 269.74,217.55 270.35,217.03 270.95,216.5 271.56,215.98 272.16,215.46 272.77,214.94 273.38,214.42 273.98,213.9 274.59,213.38 275.19,212.86 275.8,212.35 276.41,211.83 277.01,211.32 277.62,210.81 278.22,210.29 278.83,209.78 279.43,209.27 280.04,208.77 280.65,208.26 281.25,207.75 281.86,207.25 282.46,206.74 283.07,206.24 283.67,205.74 284.28,205.24 284.89,204.74 285.49,204.24 286.1,203.75 286.7,203.25 287.31,202.76 287.91,202.27 288.52,201.77 289.13,201.28 289.73,200.79 290.34,200.31 290.94,199.82 291.55,199.33 292.15,198.85 292.76,198.37 293.37,197.89 293.97,197.41 294.58,196.93 295.18,196.45 295.79,195.97 296.39,195.5 297,195.02 297.61,194.55 298.21,194.08 298.82,193.61 299.42,193.14 300.03,192.68 300.63,192.21 301.24,191.75 301.85,191.28 302.45,190.82 303.06,190.36 303.66,189.9 304.27,189.45 304.87,188.99 305.48,188.54 306.09,188.08 306.69,187.63 307.3,187.18 307.9,186.73 308.51,186.29 309.11,185.84 309.72,185.39 310.33,184.95 310.93,184.51 311.54,184.07 312.14,183.63 312.75,183.19 313.35,182.75 313.96,182.32 314.57,181.89 315.17,181.45 315.78,181.02 316.38,180.59 316.99,180.17 317.59,179.74 318.2,179.31 318.81,178.89 319.41,178.47 320.02,178.04 320.62,177.62 321.23,177.21 321.83,176.79 322.44,176.37 323.05,175.96 323.65,175.55 324.26,175.13 324.86,174.72 325.47,174.31 326.07,173.91 326.68,173.5 327.29,173.09 327.89,172.69 328.5,172.29 329.1,171.89 329.71,171.49 330.31,171.09 330.92,170.69 331.53,170.29 332.13,169.9 332.74,169.5 333.34,169.11 333.95,168.72 334.55,168.33 335.16,167.94 335.77,167.55 336.37,167.17 336.98,166.78 337.58,166.4 338.19,166.01 338.79,165.63 339.4,165.25 340.01,164.87 340.61,164.49 341.22,164.11 341.82,163.74 342.43,163.36 343.03,162.99 343.64,162.61 344.25,162.24 344.85,161.87 345.46,161.5 346.06,161.13 346.67,160.77 347.27,160.4 347.88,160.03 348.49,159.67 349.09,159.3 349.7,158.94 350.3,158.58 350.91,158.22 351.51,157.86 352.12,157.5 352.73,157.14 353.33,156.78 353.94,156.43 354.54,156.07 355.15,155.72 355.75,155.36 356.36,155.01 356.97,154.66 357.57,154.31 358.18,153.96 358.78,153.61 359.39,153.26 359.99,152.91 360.6,152.57 361.21,152.22 361.81,151.87 362.42,151.53 363.02,151.19 363.63,150.84 364.23,150.5 364.84,150.16 365.45,149.82 366.05,149.48 366.66,149.14 367.26,148.8 367.87,148.46 368.47,148.13 369.08,147.79 369.69,147.45 370.29,147.12 370.9,146.78 371.5,146.45 372.11,146.12 372.71,145.78 373.32,145.45 373.93,145.12 374.53,144.79 375.14,144.46 375.74,144.13 376.35,143.8 376.95,143.47 377.56,143.14 378.17,142.81 378.77,142.49 379.38,142.16 379.98,141.83 380.59,141.51 381.19,141.18 381.8,140.86 382.41,140.53 383.01,140.21 383.62,139.89 384.22,139.56 384.83,139.24 385.44,138.92 386.04,138.6 386.65,138.28 387.25,137.96 387.86,137.64 388.46,137.32 389.07,137 389.68,136.68 390.28,136.36 390.89,136.04 391.49,135.73 392.1,135.41 392.7,135.09 393.31,134.78 393.92,134.46 394.52,134.14 395.13,133.83 395.73,133.51 396.34,133.2 396.94,132.88 397.55,132.57 398.16,132.26 398.76,131.94 399.37,131.63 399.97,131.32 400.58,131 401.18,130.69 401.79,130.38 402.4,130.07 403,129.76 403.61,129.44 404.21,129.13 404.82,128.82 405.42,128.51 406.03,128.2 406.64,127.89 407.24,127.58 407.85,127.27 408.45,126.97 409.06,126.66 409.66,126.35 410.27,126.04 410.88,125.73 411.48,125.42 412.09,125.12 412.69,124.81 413.3,124.5 413.9,124.19 414.51,123.89 415.12,123.58 415.72,123.27 416.33,122.97 416.93,122.66 417.54,122.36 418.14,122.05 418.75,121.74 419.36,121.44 419.96,121.13 420.57,120.83 421.17,120.52 421.78,120.22 422.38,119.92 422.99,119.61 423.6,119.31 424.2,119 424.81,118.7 425.41,118.4 426.02,118.09 426.62,117.79 427.23,117.48 427.84,117.18 428.44,116.88 429.05,116.58 429.65,116.27 430.26,115.97 430.86,115.67 431.47,115.37 432.08,115.06 432.68,114.76 433.29,114.46 433.89,114.16 434.5,113.86 435.1,113.55 435.71,113.25 436.32,112.95 436.92,112.65 437.53,112.35 438.13,112.05 438.74,111.75 439.34,111.44 439.95,111.14 440.56,110.84 441.16,110.54 441.77,110.24 442.37,109.94 442.98,109.64 443.58,109.34 444.19,109.04 444.8,108.74 445.4,108.44 446.01,108.14 446.61,107.84 447.22,107.54 447.82,107.24 448.43,106.94 449.04,106.64 449.64,106.34 450.25,106.04 450.85,105.74 451.46,105.44 452.06,105.14 452.67,104.85 453.28,104.55 453.88,104.25 454.49,103.95 455.09,103.65 455.7,103.35 456.3,103.05 456.91,102.75 457.52,102.45 458.12,102.16 458.73,101.86 459.33,101.56 459.94,101.26 460.54,100.96 461.15,100.66 461.76,100.36 462.36,100.07 462.97,99.77 463.57,99.47 464.18,99.17 464.78,98.87 465.39,98.58 466,98.28 466.6,97.98 467.21,97.68 467.81,97.38 468.42,97.09 469.02,96.79 469.63,96.49 470.24,96.19 470.84,95.89 471.45,95.6 472.05,95.3 472.66,95 473.26,94.7 473.87,94.41 474.48,94.11 475.08,93.81 475.69,93.51 476.29,93.22 476.9,92.92 477.5,92.62 478.11,92.33 478.72,92.03 479.32,91.73 479.93,91.43 480.53,91.14 481.14,90.84 481.74,90.54 482.35,90.25 482.96,89.95 483.56,89.65 484.17,89.35 484.77,89.06 485.38,88.76 485.98,88.46 486.59,88.17 487.2,87.87 487.8,87.57 488.41,87.28 489.01,86.98 489.62,86.68 490.23,86.39 490.83,86.09 491.44,85.79 492.04,85.49 492.65,85.2 493.25,84.9 493.86,84.6 494.47,84.31 495.07,84.01 495.68,83.71 496.28,83.42 496.89,83.12 497.49,82.83 498.1,82.53 498.71,82.23 499.31,81.94 499.92,81.64 500.52,81.34 501.13,81.05 501.73,80.75 502.34,80.45 502.95,80.16 503.55,79.86 504.16,79.56 504.76,79.27 505.37,78.97 505.97,78.67 506.58,78.38 507.19,78.08 507.79,77.79 508.4,77.49 509,77.19 509.61,76.9 510.21,76.6 510.82,76.3 511.43,76.01 512.03,75.71 512.64,75.42 513.24,75.12 513.85,74.82 514.45,74.53 515.06,74.23 515.67,73.93 516.27,73.64 516.88,73.34 517.48,73.05 518.09,72.75 518.69,72.45 519.3,72.16 519.91,71.86 520.51,71.57 521.12,71.27 521.72,70.97 522.33,70.68 522.93,70.38 523.54,70.08 524.15,69.79 524.75,69.49 525.36,69.2 525.96,68.9 526.57,68.6 527.17,68.31 527.78,68.01 528.39,67.72 528.99,67.42 529.6,67.12 530.2,66.83 530.81,66.53 531.41,66.24 532.02,65.94 532.63,65.64 533.23,65.35 533.84,65.05 534.44,64.76 535.05,64.46 535.65,64.16 536.26,63.87 536.87,63.57 537.47,63.28 538.08,62.98 538.68,62.69 539.29,62.39 539.89,62.09 540.5,61.8" fill="none" stroke="#000" stroke-width="3.5" stroke-linecap="square" stroke-linejoin="round"/>
<polyline points="117.1,362.3 117.71,361.72 118.31,361.14 118.92,360.55 119.52,359.97 120.13,359.39 120.73,358.81 121.34,358.22 121.95,357.64 122.55,357.06 123.16,356.48 123.76,355.9 124.37,355.31 124.97,354.73 125.58,354.15 126.19,353.57 126.79,352.99 127.4,352.41 128,351.83 128.61,351.25 129.21,350.67 129.82,350.09 130.43,349.51 131.03,348.93 131.64,348.35 132.24,347.77 132.85,347.19 133.45,346.61 134.06,346.03 134.67,345.45 135.27,344.87 135.88,344.29 136.48,343.72 137.09,343.14 137.69,342.56 138.3,341.98 138.91,341.4 139.51,340.83 140.12,340.25 140.72,339.67 141.33,339.1 141.93,338.52 142.54,337.95 143.15,337.37 143.75,336.79 144.36,336.22 144.96,335.64 145.57,335.07 146.17,334.49 146.78,333.92 147.39,333.35 147.99,332.77 148.6,332.2 149.2,331.62 149.81,331.05 150.41,330.48 151.02,329.91 151.63,329.33 152.23,328.76 152.84,328.19 153.44,327.62 154.05,327.05 154.65,326.48 155.26,325.91 155.87,325.34 156.47,324.77 157.08,324.2 157.68,323.63 158.29,323.06 158.89,322.49 159.5,321.92 160.11,321.35 160.71,320.79 161.32,320.22 161.92,319.65 162.53,319.09 163.13,318.52 163.74,317.95 164.35,317.39 164.95,316.82 165.56,316.26 166.16,315.7 166.77,315.13 167.37,314.57 167.98,314.01 168.59,313.44 169.19,312.88 169.8,312.32 170.4,311.76 171.01,311.2 171.62,310.64 172.22,310.08 172.83,309.52 173.43,308.96 174.04,308.4 174.64,307.84 175.25,307.28 175.86,306.73 176.46,306.17 177.07,305.61 177.67,305.06 178.28,304.5 178.88,303.95 179.49,303.39 180.1,302.84 180.7,302.29 181.31,301.73 181.91,301.18 182.52,300.63 183.12,300.08 183.73,299.53 184.34,298.98 184.94,298.43 185.55,297.88 186.15,297.33 186.76,296.78 187.36,296.24 187.97,295.69 188.58,295.15 189.18,294.6 189.79,294.06 190.39,293.51 191,292.97 191.6,292.43 192.21,291.88 192.82,291.34 193.42,290.8 194.03,290.26 194.63,289.72 195.24,289.18 195.84,288.65 196.45,288.11 197.06,287.57 197.66,287.04 198.27,286.5 198.87,285.97 199.48,285.43 200.08,284.9 200.69,284.37 201.3,283.84 201.9,283.31 202.51,282.78 203.11,282.25 203.72,281.72 204.32,281.19 204.93,280.66 205.54,280.14 206.14,279.61 206.75,279.09 207.35,278.57 207.96,278.04 208.56,277.52 209.17,277 209.78,276.48 210.38,275.96 210.99,275.44 211.59,274.92 212.2,274.41 212.8,273.89 213.41,273.38 214.02,272.86 214.62,272.35 215.23,271.84 215.83,271.33 216.44,270.82 217.04,270.31 217.65,269.8 218.26,269.29 218.86,268.79 219.47,268.28 220.07,267.78 220.68,267.27 221.28,266.77 221.89,266.27 222.5,265.77 223.1,265.27 223.71,264.77 224.31,264.27 224.92,263.77 225.52,263.28 226.13,262.78 226.74,262.29 227.34,261.8 227.95,261.31 228.55,260.82 229.16,260.33 229.76,259.84 230.37,259.35 230.98,258.87 231.58,258.38 232.19,257.9 232.79,257.42 233.4,256.93 234,256.45 234.61,255.97 235.22,255.49 235.82,255.02 236.43,254.54 237.03,254.07 237.64,253.59 238.24,253.12 238.85,252.65 239.46,252.18 240.06,251.71 240.67,251.24 241.27,250.77 241.88,250.31 242.48,249.84 243.09,249.38 243.7,248.92 244.3,248.45 244.91,247.99 245.51,247.53 246.12,247.08 246.72,246.62 247.33,246.16 247.94,245.71 248.54,245.26 249.15,244.8 249.75,244.35 250.36,243.9 250.96,243.46 251.57,243.01 252.18,242.56 252.78,242.12 253.39,241.67 253.99,241.23 254.6,240.79 255.2,240.35 255.81,239.91 256.42,239.47 257.02,239.03 257.63,238.6 258.23,238.16 258.84,237.73 259.44,237.3 260.05,236.87 260.66,236.44 261.26,236.01 261.87,235.58 262.47,235.15 263.08,234.73 263.68,234.31 264.29,233.88 264.9,233.46 265.5,233.04 266.11,232.62 266.71,232.2 267.32,231.79 267.92,231.37 268.53,230.95 269.14,230.54 269.74,230.13 270.35,229.72 270.95,229.31 271.56,228.9 272.16,228.49 272.77,228.08 273.38,227.67 273.98,227.27 274.59,226.87 275.19,226.46 275.8,226.06 276.41,225.66 277.01,225.26 277.62,224.86 278.22,224.47 278.83,224.07 279.43,223.67 280.04,223.28 280.65,222.89 281.25,222.49 281.86,222.1 282.46,221.71 283.07,221.32 283.67,220.94 284.28,220.55 284.89,220.16 285.49,219.78 286.1,219.39 286.7,219.01 287.31,218.63 287.91,218.25 288.52,217.87 289.13,217.49 289.73,217.11 290.34,216.73 290.94,216.36 291.55,215.98 292.15,215.61 292.76,215.23 293.37,214.86 293.97,214.49 294.58,214.12 295.18,213.75 295.79,213.38 296.39,213.01 297,212.64 297.61,212.27 298.21,211.91 298.82,211.54 299.42,211.18 300.03,210.82 300.63,210.45 301.24,210.09 301.85,209.73 302.45,209.37 303.06,209.01 303.66,208.65 304.27,208.3 304.87,207.94 305.48,207.58 306.09,207.23 306.69,206.87 307.3,206.52 307.9,206.17 308.51,205.81 309.11,205.46 309.72,205.11 310.33,204.76 310.93,204.41 311.54,204.06 312.14,203.71 312.75,203.37 313.35,203.02 313.96,202.67 314.57,202.33 315.17,201.98 315.78,201.64 316.38,201.3 316.99,200.95 317.59,200.61 318.2,200.27 318.81,199.93 319.41,199.59 320.02,199.25 320.62,198.91 321.23,198.57 321.83,198.23 322.44,197.89 323.05,197.56 323.65,197.22 324.26,196.89 324.86,196.55 325.47,196.22 326.07,195.88 326.68,195.55 327.29,195.21 327.89,194.88 328.5,194.55 329.1,194.22 329.71,193.89 330.31,193.56 330.92,193.23 331.53,192.9 332.13,192.57 332.74,192.24 333.34,191.91 333.95,191.58 334.55,191.25 335.16,190.93 335.77,190.6 336.37,190.28 336.98,189.95 337.58,189.62 338.19,189.3 338.79,188.98 339.4,188.65 340.01,188.33 340.61,188.01 341.22,187.68 341.82,187.36 342.43,187.04 343.03,186.72 343.64,186.4 344.25,186.07 344.85,185.75 345.46,185.43 346.06,185.11 346.67,184.79 347.27,184.48 347.88,184.16 348.49,183.84 349.09,183.52 349.7,183.2 350.3,182.88 350.91,182.57 351.51,182.25 352.12,181.93 352.73,181.62 353.33,181.3 353.94,180.99 354.54,180.67 355.15,180.36 355.75,180.04 356.36,179.73 356.97,179.41 357.57,179.1 358.18,178.79 358.78,178.47 359.39,178.16 359.99,177.85 360.6,177.53 361.21,177.22 361.81,176.91 362.42,176.6 363.02,176.29 363.63,175.97 364.23,175.66 364.84,175.35 365.45,175.04 366.05,174.73 366.66,174.42 367.26,174.11 367.87,173.8 368.47,173.49 369.08,173.18 369.69,172.87 370.29,172.56 370.9,172.26 371.5,171.95 372.11,171.64 372.71,171.33 373.32,171.02 373.93,170.71 374.53,170.41 375.14,170.1 375.74,169.79 376.35,169.48 376.95,169.18 377.56,168.87 378.17,168.56 378.77,168.26 379.38,167.95 379.98,167.65 380.59,167.34 381.19,167.03 381.8,166.73 382.41,166.42 383.01,166.12 383.62,165.81 384.22,165.51 384.83,165.2 385.44,164.9 386.04,164.59 386.65,164.29 387.25,163.98 387.86,163.68 388.46,163.38 389.07,163.07 389.68,162.77 390.28,162.46 390.89,162.16 391.49,161.86 392.1,161.55 392.7,161.25 393.31,160.95 393.92,160.64 394.52,160.34 395.13,160.04 395.73,159.74 396.34,159.43 396.94,159.13 397.55,158.83 398.16,158.53 398.76,158.22 399.37,157.92 399.97,157.62 400.58,157.32 401.18,157.02 401.79,156.72 402.4,156.41 403,156.11 403.61,155.81 404.21,155.51 404.82,155.21 405.42,154.91 406.03,154.61 406.64,154.31 407.24,154 407.85,153.7 408.45,153.4 409.06,153.1 409.66,152.8 410.27,152.5 410.88,152.2 411.48,151.9 412.09,151.6 412.69,151.3 413.3,151 413.9,150.7 414.51,150.4 415.12,150.1 415.72,149.8 416.33,149.5 416.93,149.2 417.54,148.9 418.14,148.6 418.75,148.3 419.36,148 419.96,147.7 420.57,147.4 421.17,147.1 421.78,146.81 422.38,146.51 422.99,146.21 423.6,145.91 424.2,145.61 424.81,145.31 425.41,145.01 426.02,144.71 426.62,144.41 427.23,144.11 427.84,143.82 428.44,143.52 429.05,143.22 429.65,142.92 430.26,142.62 430.86,142.32 431.47,142.02 432.08,141.73 432.68,141.43 433.29,141.13 433.89,140.83 434.5,140.53 435.1,140.23 435.71,139.94 436.32,139.64 436.92,139.34 437.53,139.04 438.13,138.74 438.74,138.45 439.34,138.15 439.95,137.85 440.56,137.55 441.16,137.25 441.77,136.96 442.37,136.66 442.98,136.36 443.58,136.06 444.19,135.77 444.8,135.47 445.4,135.17 446.01,134.87 446.61,134.57 447.22,134.28 447.82,133.98 448.43,133.68 449.04,133.39 449.64,133.09 450.25,132.79 450.85,132.49 451.46,132.2 452.06,131.9 452.67,131.6 453.28,131.3 453.88,131.01 454.49,130.71 455.09,130.41 455.7,130.11 456.3,129.82 456.91,129.52 457.52,129.22 458.12,128.93 458.73,128.63 459.33,128.33 459.94,128.04 460.54,127.74 461.15,127.44 461.76,127.14 462.36,126.85 462.97,126.55 463.57,126.25 464.18,125.96 464.78,125.66 465.39,125.36 466,125.07 466.6,124.77 467.21,124.47 467.81,124.18 468.42,123.88 469.02,123.58 469.63,123.29 470.24,122.99 470.84,122.69 471.45,122.4 472.05,122.1 472.66,121.8 473.26,121.51 473.87,121.21 474.48,120.91 475.08,120.62 475.69,120.32 476.29,120.02 476.9,119.73 477.5,119.43 478.11,119.13 478.72,118.84 479.32,118.54 479.93,118.24 480.53,117.95 481.14,117.65 481.74,117.35 482.35,117.06 482.96,116.76 483.56,116.47 484.17,116.17 484.77,115.87 485.38,115.58 485.98,115.28 486.59,114.98 487.2,114.69 487.8,114.39 488.41,114.09 489.01,113.8 489.62,113.5 490.23,113.21 490.83,112.91 491.44,112.61 492.04,112.32 492.65,112.02 493.25,111.72 493.86,111.43 494.47,111.13 495.07,110.84 495.68,110.54 496.28,110.24 496.89,109.95 497.49,109.65 498.1,109.35 498.71,109.06 499.31,108.76 499.92,108.47 500.52,108.17 501.13,107.87 501.73,107.58 502.34,107.28 502.95,106.99 503.55,106.69 504.16,106.39 504.76,106.1 505.37,105.8 505.97,105.51 506.58,105.21 507.19,104.91 507.79,104.62 508.4,104.32 509,104.02 509.61,103.73 510.21,103.43 510.82,103.14 511.43,102.84 512.03,102.54 512.64,102.25 513.24,101.95 513.85,101.66 514.45,101.36 515.06,101.06 515.67,100.77 516.27,100.47 516.88,100.18 517.48,99.88 518.09,99.58 518.69,99.29 519.3,98.99 519.91,98.7 520.51,98.4 521.12,98.1 521.72,97.81 522.33,97.51 522.93,97.22 523.54,96.92 524.15,96.62 524.75,96.33 525.36,96.03 525.96,95.74 526.57,95.44 527.17,95.15 527.78,94.85 528.39,94.55 528.99,94.26 529.6,93.96 530.2,93.67 530.81,93.37 531.41,93.07 532.02,92.78 532.63,92.48 533.23,92.19 533.84,91.89 534.44,91.59 535.05,91.3 535.65,91 536.26,90.71 536.87,90.41 537.47,90.12 538.08,89.82 538.68,89.52 539.29,89.23 539.89,88.93 540.5,88.64" fill="none" stroke="#000" stroke-width="3.5" stroke-linecap="square" stroke-linejoin="round"/>
<polyline points="117.1,363.58 117.71,363.01 118.31,362.44 118.92,361.88 119.52,361.31 120.13,360.74 120.73,360.18 121.34,359.62 121.95,359.05 122.55,358.49 123.16,357.92 123.76,357.36 124.37,356.8 124.97,356.24 125.58,355.68 126.19,355.12 126.79,354.55 127.4,353.99 128,353.44 128.61,352.88 129.21,352.32 129.82,351.76 130.43,351.2 131.03,350.65 131.64,350.09 132.24,349.53 132.85,348.98 133.45,348.42 134.06,347.87 134.67,347.31 135.27,346.76 135.88,346.21 136.48,345.66 137.09,345.1 137.69,344.55 138.3,344 138.91,343.45 139.51,342.9 140.12,342.36 140.72,341.81 141.33,341.26 141.93,340.71 142.54,340.17 143.15,339.62 143.75,339.08 144.36,338.53 144.96,337.99 145.57,337.45 146.17,336.91 146.78,336.36 147.39,335.82 147.99,335.28 148.6,334.75 149.2,334.21 149.81,333.67 150.41,333.13 151.02,332.6 151.63,332.06 152.23,331.53 152.84,330.99 153.44,330.46 154.05,329.93 154.65,329.4 155.26,328.87 155.87,328.34 156.47,327.81 157.08,327.28 157.68,326.75 158.29,326.23 158.89,325.7 159.5,325.18 160.11,324.65 160.71,324.13 161.32,323.61 161.92,323.09 162.53,322.57 163.13,322.05 163.74,321.53 164.35,321.01 164.95,320.49 165.56,319.98 166.16,319.46 166.77,318.95 167.37,318.44 167.98,317.93 168.59,317.42 169.19,316.91 169.8,316.4 170.4,315.89 171.01,315.38 171.62,314.88 172.22,314.37 172.83,313.87 173.43,313.37 174.04,312.87 174.64,312.37 175.25,311.87 175.86,311.37 176.46,310.87 177.07,310.38 177.67,309.88 178.28,309.39 178.88,308.9 179.49,308.4 180.1,307.91 180.7,307.42 181.31,306.94 181.91,306.45 182.52,305.96 183.12,305.48 183.73,305 184.34,304.51 184.94,304.03 185.55,303.55 186.15,303.07 186.76,302.6 187.36,302.12 187.97,301.64 188.58,301.17 189.18,300.7 189.79,300.23 190.39,299.76 191,299.29 191.6,298.82 192.21,298.35 192.82,297.89 193.42,297.42 194.03,296.96 194.63,296.5 195.24,296.04 195.84,295.58 196.45,295.12 197.06,294.66 197.66,294.21 198.27,293.75 198.87,293.3 199.48,292.85 200.08,292.4 200.69,291.95 201.3,291.5 201.9,291.05 202.51,290.61 203.11,290.16 203.72,289.72 204.32,289.28 204.93,288.84 205.54,288.4 206.14,287.96 206.75,287.52 207.35,287.09 207.96,286.65 208.56,286.22 209.17,285.79 209.78,285.36 210.38,284.93 210.99,284.5 211.59,284.07 212.2,283.65 212.8,283.22 213.41,282.8 214.02,282.38 214.62,281.96 215.23,281.54 215.83,281.12 216.44,280.7 217.04,280.29 217.65,279.87 218.26,279.46 218.86,279.04 219.47,278.63 220.07,278.22 220.68,277.82 221.28,277.41 221.89,277 222.5,276.6 223.1,276.19 223.71,275.79 224.31,275.39 224.92,274.99 225.52,274.59 226.13,274.19 226.74,273.79 227.34,273.4 227.95,273 228.55,272.61 229.16,272.22 229.76,271.82 230.37,271.43 230.98,271.04 231.58,270.66 232.19,270.27 232.79,269.88 233.4,269.5 234,269.11 234.61,268.73 235.22,268.35 235.82,267.97 236.43,267.59 237.03,267.21 237.64,266.83 238.24,266.45 238.85,266.08 239.46,265.7 240.06,265.33 240.67,264.96 241.27,264.58 241.88,264.21 242.48,263.84 243.09,263.47 243.7,263.11 244.3,262.74 244.91,262.37 245.51,262.01 246.12,261.64 246.72,261.28 247.33,260.92 247.94,260.55 248.54,260.19 249.15,259.83 249.75,259.47 250.36,259.12 250.96,258.76 251.57,258.4 252.18,258.05 252.78,257.69 253.39,257.34 253.99,256.98 254.6,256.63 255.2,256.28 255.81,255.93 256.42,255.58 257.02,255.23 257.63,254.88 258.23,254.53 258.84,254.18 259.44,253.83 260.05,253.49 260.66,253.14 261.26,252.8 261.87,252.45 262.47,252.11 263.08,251.77 263.68,251.43 264.29,251.09 264.9,250.74 265.5,250.4 266.11,250.07 266.71,249.73 267.32,249.39 267.92,249.05 268.53,248.71 269.14,248.38 269.74,248.04 270.35,247.71 270.95,247.37 271.56,247.04 272.16,246.7 272.77,246.37 273.38,246.04 273.98,245.71 274.59,245.38 275.19,245.05 275.8,244.72 276.41,244.39 277.01,244.06 277.62,243.73 278.22,243.4 278.83,243.07 279.43,242.74 280.04,242.42 280.65,242.09 281.25,241.77 281.86,241.44 282.46,241.12 283.07,240.79 283.67,240.47 284.28,240.14 284.89,239.82 285.49,239.5 286.1,239.18 286.7,238.85 287.31,238.53 287.91,238.21 288.52,237.89 289.13,237.57 289.73,237.25 290.34,236.93 290.94,236.61 291.55,236.29 292.15,235.97 292.76,235.66 293.37,235.34 293.97,235.02 294.58,234.7 295.18,234.39 295.79,234.07 296.39,233.75 297,233.44 297.61,233.12 298.21,232.81 298.82,232.49 299.42,232.18 300.03,231.86 300.63,231.55 301.24,231.24 301.85,230.92 302.45,230.61 303.06,230.3 303.66,229.98 304.27,229.67 304.87,229.36 305.48,229.05 306.09,228.74 306.69,228.42 307.3,228.11 307.9,227.8 308.51,227.49 309.11,227.18 309.72,226.87 310.33,226.56 310.93,226.25 311.54,225.94 312.14,225.63 312.75,225.32 313.35,225.02 313.96,224.71 314.57,224.4 315.17,224.09 315.78,223.78 316.38,223.48 316.99,223.17 317.59,222.86 318.2,222.55 318.81,222.25 319.41,221.94 320.02,221.63 320.62,221.33 321.23,221.02 321.83,220.71 322.44,220.41 323.05,220.1 323.65,219.8 324.26,219.49 324.86,219.19 325.47,218.88 326.07,218.58 326.68,218.27 327.29,217.97 327.89,217.66 328.5,217.36 329.1,217.05 329.71,216.75 330.31,216.45 330.92,216.14 331.53,215.84 332.13,215.53 332.74,215.23 333.34,214.93 333.95,214.62 334.55,214.32 335.16,214.02 335.77,213.72 336.37,213.41 336.98,213.11 337.58,212.81 338.19,212.51 338.79,212.2 339.4,211.9 340.01,211.6 340.61,211.3 341.22,211 341.82,210.69 342.43,210.39 343.03,210.09 343.64,209.79 344.25,209.49 344.85,209.19 345.46,208.89 346.06,208.58 346.67,208.28 347.27,207.98 347.88,207.68 348.49,207.38 349.09,207.08 349.7,206.78 350.3,206.48 350.91,206.18 351.51,205.88 352.12,205.58 352.73,205.28 353.33,204.98 353.94,204.68 354.54,204.38 355.15,204.08 355.75,203.78 356.36,203.48 356.97,203.18 357.57,202.88 358.18,202.58 358.78,202.28 359.39,201.98 359.99,201.68 360.6,201.38 361.21,201.08 361.81,200.78 362.42,200.49 363.02,200.19 363.63,199.89 364.23,199.59 364.84,199.29 365.45,198.99 366.05,198.69 366.66,198.39 367.26,198.09 367.87,197.8 368.47,197.5 369.08,197.2 369.69,196.9 370.29,196.6 370.9,196.3 371.5,196.01 372.11,195.71 372.71,195.41 373.32,195.11 373.93,194.81 374.53,194.51 375.14,194.22 375.74,193.92 376.35,193.62 376.95,193.32 377.56,193.02 378.17,192.73 378.77,192.43 379.38,192.13 379.98,191.83 380.59,191.53 381.19,191.24 381.8,190.94 382.41,190.64 383.01,190.34 383.62,190.05 384.22,189.75 384.83,189.45 385.44,189.15 386.04,188.86 386.65,188.56 387.25,188.26 387.86,187.96 388.46,187.67 389.07,187.37 389.68,187.07 390.28,186.78 390.89,186.48 391.49,186.18 392.1,185.88 392.7,185.59 393.31,185.29 393.92,184.99 394.52,184.7 395.13,184.4 395.73,184.1 396.34,183.8 396.94,183.51 397.55,183.21 398.16,182.91 398.76,182.62 399.37,182.32 399.97,182.02 400.58,181.73 401.18,181.43 401.79,181.13 402.4,180.83 403,180.54 403.61,180.24 404.21,179.94 404.82,179.65 405.42,179.35 406.03,179.05 406.64,178.76 407.24,178.46 407.85,178.16 408.45,177.87 409.06,177.57 409.66,177.27 410.27,176.98 410.88,176.68 411.48,176.38 412.09,176.09 412.69,175.79 413.3,175.5 413.9,175.2 414.51,174.9 415.12,174.61 415.72,174.31 416.33,174.01 416.93,173.72 417.54,173.42 418.14,173.12 418.75,172.83 419.36,172.53 419.96,172.23 420.57,171.94 421.17,171.64 421.78,171.35 422.38,171.05 422.99,170.75 423.6,170.46 424.2,170.16 424.81,169.86 425.41,169.57 426.02,169.27 426.62,168.98 427.23,168.68 427.84,168.38 428.44,168.09 429.05,167.79 429.65,167.49 430.26,167.2 430.86,166.9 431.47,166.61 432.08,166.31 432.68,166.01 433.29,165.72 433.89,165.42 434.5,165.12 435.1,164.83 435.71,164.53 436.32,164.24 436.92,163.94 437.53,163.64 438.13,163.35 438.74,163.05 439.34,162.76 439.95,162.46 440.56,162.16 441.16,161.87 441.77,161.57 442.37,161.28 442.98,160.98 443.58,160.68 444.19,160.39 444.8,160.09 445.4,159.8 446.01,159.5 446.61,159.2 447.22,158.91 447.82,158.61 448.43,158.31 449.04,158.02 449.64,157.72 450.25,157.43 450.85,157.13 451.46,156.84 452.06,156.54 452.67,156.24 453.28,155.95 453.88,155.65 454.49,155.36 455.09,155.06 455.7,154.76 456.3,154.47 456.91,154.17 457.52,153.88 458.12,153.58 458.73,153.28 459.33,152.99 459.94,152.69 460.54,152.4 461.15,152.1 461.76,151.8 462.36,151.51 462.97,151.21 463.57,150.92 464.18,150.62 464.78,150.32 465.39,150.03 466,149.73 466.6,149.44 467.21,149.14 467.81,148.85 468.42,148.55 469.02,148.25 469.63,147.96 470.24,147.66 470.84,147.37 471.45,147.07 472.05,146.77 472.66,146.48 473.26,146.18 473.87,145.89 474.48,145.59 475.08,145.3 475.69,145 476.29,144.7 476.9,144.41 477.5,144.11 478.11,143.82 478.72,143.52 479.32,143.22 479.93,142.93 480.53,142.63 481.14,142.34 481.74,142.04 482.35,141.75 482.96,141.45 483.56,141.15 484.17,140.86 484.77,140.56 485.38,140.27 485.98,139.97 486.59,139.67 487.2,139.38 487.8,139.08 488.41,138.79 489.01,138.49 489.62,138.2 490.23,137.9 490.83,137.6 491.44,137.31 492.04,137.01 492.65,136.72 493.25,136.42 493.86,136.13 494.47,135.83 495.07,135.53 495.68,135.24 496.28,134.94 496.89,134.65 497.49,134.35 498.1,134.05 498.71,133.76 499.31,133.46 499.92,133.17 500.52,132.87 501.13,132.58 501.73,132.28 502.34,131.98 502.95,131.69 503.55,131.39 504.16,131.1 504.76,130.8 505.37,130.51 505.97,130.21 506.58,129.91 507.19,129.62 507.79,129.32 508.4,129.03 509,128.73 509.61,128.44 510.21,128.14 510.82,127.84 511.43,127.55 512.03,127.25 512.64,126.96 513.24,126.66 513.85,126.37 514.45,126.07 515.06,125.77 515.67,125.48 516.27,125.18 516.88,124.89 517.48,124.59 518.09,124.3 518.69,124 519.3,123.7 519.91,123.41 520.51,123.11 521.12,122.82 521.72,122.52 522.33,122.23 522.93,121.93 523.54,121.63 524.15,121.34 524.75,121.04 525.36,120.75 525.96,120.45 526.57,120.16 527.17,119.86 527.78,119.56 528.39,119.27 528.99,118.97 529.6,118.68 530.2,118.38 530.81,118.09 531.41,117.79 532.02,117.49 532.63,117.2 533.23,116.9 533.84,116.61 534.44,116.31 535.05,116.02 535.65,115.72 536.26,115.42 536.87,115.13 537.47,114.83 538.08,114.54 538.68,114.24 539.29,113.95 539.89,113.65 540.5,113.35" fill="none" stroke="#000" stroke-width="3.5" stroke-linecap="square" stroke-linejoin="round"/>
<polyline points="117.1,362.7 117.71,362.11 118.31,361.52 118.92,360.93 119.52,360.33 120.13,359.74 120.73,359.15 121.34,358.56 121.95,357.97 122.55,357.38 123.16,356.79 123.76,356.2 124.37,355.61 124.97,355.02 125.58,354.43 126.19,353.84 126.79,353.24 127.4,352.65 128,352.06 128.61,351.47 129.21,350.88 129.82,350.29 130.43,349.7 131.03,349.11 131.64,348.52 132.24,347.93 132.85,347.34 133.45,346.75 134.06,346.16 134.67,345.56 135.27,344.97 135.88,344.38 136.48,343.79 137.09,343.2 137.69,342.61 138.3,342.02 138.91,341.43 139.51,340.84 140.12,340.25 140.72,339.66 141.33,339.07 141.93,338.48 142.54,337.89 143.15,337.3 143.75,336.71 144.36,336.12 144.96,335.53 145.57,334.93 146.17,334.34 146.78,333.75 147.39,333.16 147.99,332.57 148.6,331.98 149.2,331.39 149.81,330.8 150.41,330.21 151.02,329.62 151.63,329.03 152.23,328.44 152.84,327.85 153.44,327.26 154.05,326.67 154.65,326.08 155.26,325.49 155.87,324.9 156.47,324.31 157.08,323.72 157.68,323.13 158.29,322.54 158.89,321.95 159.5,321.36 160.11,320.77 160.71,320.18 161.32,319.59 161.92,319 162.53,318.41 163.13,317.82 163.74,317.23 164.35,316.64 164.95,316.05 165.56,315.46 166.16,314.87 166.77,314.28 167.37,313.69 167.98,313.1 168.59,312.51 169.19,311.92 169.8,311.33 170.4,310.74 171.01,310.15 171.62,309.57 172.22,308.98 172.83,308.39 173.43,307.8 174.04,307.21 174.64,306.62 175.25,306.03 175.86,305.44 176.46,304.85 177.07,304.26 177.67,303.67 178.28,303.08 178.88,302.49 179.49,301.91 180.1,301.32 180.7,300.73 181.31,300.14 181.91,299.55 182.52,298.96 183.12,298.37 183.73,297.78 184.34,297.2 184.94,296.61 185.55,296.02 186.15,295.43 186.76,294.84 187.36,294.25 187.97,293.66 188.58,293.08 189.18,292.49 189.79,291.9 190.39,291.31 191,290.72 191.6,290.14 192.21,289.55 192.82,288.96 193.42,288.37 194.03,287.78 194.63,287.2 195.24,286.61 195.84,286.02 196.45,285.43 197.06,284.85 197.66,284.26 198.27,283.67 198.87,283.08 199.48,282.5 200.08,281.91 200.69,281.32 201.3,280.74 201.9,280.15 202.51,279.56 203.11,278.98 203.72,278.39 204.32,277.8 204.93,277.22 205.54,276.63 206.14,276.04 206.75,275.46 207.35,274.87 207.96,274.29 208.56,273.7 209.17,273.11 209.78,272.53 210.38,271.94 210.99,271.36 211.59,270.77 212.2,270.19 212.8,269.6 213.41,269.01 214.02,268.43 214.62,267.84 215.23,267.26 215.83,266.67 216.44,266.09 217.04,265.51 217.65,264.92 218.26,264.34 218.86,263.75 219.47,263.17 220.07,262.58 220.68,262 221.28,261.42 221.89,260.83 222.5,260.25 223.1,259.67 223.71,259.08 224.31,258.5 224.92,257.92 225.52,257.33 226.13,256.75 226.74,256.17 227.34,255.59 227.95,255 228.55,254.42 229.16,253.84 229.76,253.26 230.37,252.68 230.98,252.1 231.58,251.51 232.19,250.93 232.79,250.35 233.4,249.77 234,249.19 234.61,248.61 235.22,248.03 235.82,247.45 236.43,246.87 237.03,246.29 237.64,245.71 238.24,245.13 238.85,244.55 239.46,243.97 240.06,243.39 240.67,242.82 241.27,242.24 241.88,241.66 242.48,241.08 243.09,240.5 243.7,239.93 244.3,239.35 244.91,238.77 245.51,238.2 246.12,237.62 246.72,237.04 247.33,236.47 247.94,235.89 248.54,235.32 249.15,234.74 249.75,234.17 250.36,233.59 250.96,233.02 251.57,232.44 252.18,231.87 252.78,231.3 253.39,230.72 253.99,230.15 254.6,229.58 255.2,229 255.81,228.43 256.42,227.86 257.02,227.29 257.63,226.72 258.23,226.15 258.84,225.58 259.44,225.01 260.05,224.44 260.66,223.87 261.26,223.3 261.87,222.73 262.47,222.16 263.08,221.59 263.68,221.02 264.29,220.46 264.9,219.89 265.5,219.32 266.11,218.76 266.71,218.19 267.32,217.62 267.92,217.06 268.53,216.49 269.14,215.93 269.74,215.37 270.35,214.8 270.95,214.24 271.56,213.68 272.16,213.11 272.77,212.55 273.38,211.99 273.98,211.43 274.59,210.87 275.19,210.31 275.8,209.75 276.41,209.19 277.01,208.63 277.62,208.08 278.22,207.52 278.83,206.96 279.43,206.41 280.04,205.85 280.65,205.29 281.25,204.74 281.86,204.19 282.46,203.63 283.07,203.08 283.67,202.53 284.28,201.97 284.89,201.42 285.49,200.87 286.1,200.32 286.7,199.77 287.31,199.22 287.91,198.67 288.52,198.13 289.13,197.58 289.73,197.03 290.34,196.49 290.94,195.94 291.55,195.4 292.15,194.85 292.76,194.31 293.37,193.77 293.97,193.23 294.58,192.68 295.18,192.14 295.79,191.6 296.39,191.07 297,190.53 297.61,189.99 298.21,189.45 298.82,188.92 299.42,188.38 300.03,187.85 300.63,187.31 301.24,186.78 301.85,186.25 302.45,185.72 303.06,185.19 303.66,184.66 304.27,184.13 304.87,183.6 305.48,183.07 306.09,182.54 306.69,182.02 307.3,181.49 307.9,180.97 308.51,180.45 309.11,179.92 309.72,179.4 310.33,178.88 310.93,178.36 311.54,177.84 312.14,177.33 312.75,176.81 313.35,176.29 313.96,175.78 314.57,175.26 315.17,174.75 315.78,174.24 316.38,173.73 316.99,173.22 317.59,172.71 318.2,172.2 318.81,171.69 319.41,171.18 320.02,170.68 320.62,170.18 321.23,169.67 321.83,169.17 322.44,168.67 323.05,168.17 323.65,167.67 324.26,167.17 324.86,166.67 325.47,166.18 326.07,165.68 326.68,165.19 327.29,164.69 327.89,164.2 328.5,163.71 329.1,163.22 329.71,162.73 330.31,162.24 330.92,161.76 331.53,161.27 332.13,160.79 332.74,160.3 333.34,159.82 333.95,159.34 334.55,158.86 335.16,158.38 335.77,157.9 336.37,157.43 336.98,156.95 337.58,156.47 338.19,156 338.79,155.53 339.4,155.06 340.01,154.59 340.61,154.12 341.22,153.65 341.82,153.18 342.43,152.72 343.03,152.25 343.64,151.79 344.25,151.33 344.85,150.86 345.46,150.4 346.06,149.94 346.67,149.49 347.27,149.03 347.88,148.57 348.49,148.12 349.09,147.66 349.7,147.21 350.3,146.76 350.91,146.31 351.51,145.86 352.12,145.41 352.73,144.96 353.33,144.52 353.94,144.07 354.54,143.63 355.15,143.19 355.75,142.74 356.36,142.3 356.97,141.86 357.57,141.42 358.18,140.99 358.78,140.55 359.39,140.11 359.99,139.68 360.6,139.25 361.21,138.81 361.81,138.38 362.42,137.95 363.02,137.52 363.63,137.09 364.23,136.67 364.84,136.24 365.45,135.81 366.05,135.39 366.66,134.97 367.26,134.54 367.87,134.12 368.47,133.7 369.08,133.28 369.69,132.86 370.29,132.45 370.9,132.03 371.5,131.61 372.11,131.2 372.71,130.78 373.32,130.37 373.93,129.96 374.53,129.55 375.14,129.14 375.74,128.73 376.35,128.32 376.95,127.91 377.56,127.5 378.17,127.1 378.77,126.69 379.38,126.29 379.98,125.88 380.59,125.48 381.19,125.08 381.8,124.68 382.41,124.28 383.01,123.88 383.62,123.48 384.22,123.08 384.83,122.69 385.44,122.29 386.04,121.9 386.65,121.5 387.25,121.11 387.86,120.71 388.46,120.32 389.07,119.93 389.68,119.54 390.28,119.15 390.89,118.76 391.49,118.37 392.1,117.98 392.7,117.6 393.31,117.21 393.92,116.83 394.52,116.44 395.13,116.06 395.73,115.67 396.34,115.29 396.94,114.91 397.55,114.53 398.16,114.15 398.76,113.77 399.37,113.39 399.97,113.01 400.58,112.63 401.18,112.25 401.79,111.88 402.4,111.5 403,111.13 403.61,110.75 404.21,110.38 404.82,110.01 405.42,109.63 406.03,109.26 406.64,108.89 407.24,108.52 407.85,108.15 408.45,107.78 409.06,107.41 409.66,107.04 410.27,106.68 410.88,106.31 411.48,105.94 412.09,105.58 412.69,105.21 413.3,104.85 413.9,104.49 414.51,104.12 415.12,103.76 415.72,103.4 416.33,103.04 416.93,102.68 417.54,102.32 418.14,101.96 418.75,101.6 419.36,101.24 419.96,100.88 420.57,100.53 421.17,100.17 421.78,99.81 422.38,99.46 422.99,99.1 423.6,98.75 424.2,98.4 424.81,98.04 425.41,97.69 426.02,97.34 426.62,96.99 427.23,96.64 427.84,96.29 428.44,95.94 429.05,95.59 429.65,95.24 430.26,94.89 430.86,94.54 431.47,94.2 432.08,93.85 432.68,93.5 433.29,93.16 433.89,92.81 434.5,92.47 435.1,92.13 435.71,91.78 436.32,91.44 436.92,91.1 437.53,90.76 438.13,90.41 438.74,90.07 439.34,89.73 439.95,89.39 440.56,89.05 441.16,88.72 441.77,88.38 442.37,88.04 442.98,87.7 443.58,87.37 444.19,87.03 444.8,86.69 445.4,86.36 446.01,86.02 446.61,85.69 447.22,85.35 447.82,85.02 448.43,84.69 449.04,84.35 449.64,84.02 450.25,83.69 450.85,83.36 451.46,83.03 452.06,82.7 452.67,82.37 453.28,82.04 453.88,81.71 454.49,81.38 455.09,81.05 455.7,80.72 456.3,80.39 456.91,80.07 457.52,79.74 458.12,79.41 458.73,79.09 459.33,78.76 459.94,78.44 460.54,78.11 461.15,77.79 461.76,77.46 462.36,77.14 462.97,76.81 463.57,76.49 464.18,76.17 464.78,75.85 465.39,75.52 466,75.2 466.6,74.88 467.21,74.56 467.81,74.24 468.42,73.92 469.02,73.6 469.63,73.28 470.24,72.96 470.84,72.64 471.45,72.32 472.05,72 472.66,71.68 473.26,71.37 473.87,71.05 474.48,70.73 475.08,70.41 475.69,70.1 476.29,69.78 476.9,69.47 477.5,69.15 478.11,68.83 478.72,68.52 479.32,68.2 479.93,67.89 480.53,67.57 481.14,67.26 481.74,66.95 482.35,66.63 482.96,66.32 483.56,66.01 484.17,65.69 484.77,65.38 485.38,65.07 485.98,64.76 486.59,64.44 487.2,64.13 487.8,63.82 488.41,63.51 489.01,63.2 489.62,62.89 490.23,62.58 490.83,62.27 491.44,61.96 492.04,61.65 492.65,61.34 493.25,61.03 493.86,60.72 494.47,60.41 495.07,60.1 495.68,59.79 496.28,59.48 496.89,59.17 497.49,58.86 498.1,58.56 498.71,58.25 499.31,57.94 499.92,57.63 500.52,57.33 501.13,57.02 501.73,56.71 502.34,56.41 502.95,56.1 503.55,55.79 504.16,55.49 504.76,55.18 505.37,54.87 505.97,54.57 506.58,54.26 507.19,53.96 507.79,53.65 508.4,53.35 509,53.04 509.61,52.74 510.21,52.43 510.82,52.13 511.43,51.82 512.03,51.52 512.64,51.21 513.24,50.91 513.85,50.61 514.45,50.3 515.06,50 515.67,49.69 516.27,49.39 516.88,49.09 517.48,48.78 518.09,48.48 518.69,48.18 519.3,47.87 519.91,47.57 520.51,47.27 521.12,46.97 521.72,46.66 522.33,46.36 522.93,46.06 523.54,45.76 524.15,45.46 524.75,45.15 525.36,44.85 525.96,44.55 526.57,44.25 527.17,43.95 527.78,43.64 528.39,43.34 528.99,43.04 529.6,42.74 530.2,42.44 530.81,42.14 531.41,41.84 532.02,41.54 532.63,41.24 533.23,40.94 533.84,40.63 534.44,40.33 535.05,40.03 535.65,39.73 536.26,39.43 536.87,39.13 537.47,38.83 538.08,38.53 538.68,38.23 539.29,37.93 539.89,37.63 540.5,37.33" fill="none" stroke="#808080" stroke-width="3.8" stroke-linecap="butt" stroke-linejoin="round" stroke-dasharray="13.3 5.9"/>
<polyline points="117.1,362.7 117.71,362.12 118.31,361.53 118.92,360.94 119.52,360.35 120.13,359.76 120.73,359.17 121.34,358.58 121.95,357.99 122.55,357.4 123.16,356.81 123.76,356.22 124.37,355.63 124.97,355.04 125.58,354.45 126.19,353.86 126.79,353.27 127.4,352.68 128,352.09 128.61,351.5 129.21,350.91 129.82,350.32 130.43,349.73 131.03,349.15 131.64,348.56 132.24,347.97 132.85,347.38 133.45,346.79 134.06,346.2 134.67,345.61 135.27,345.02 135.88,344.43 136.48,343.84 137.09,343.26 137.69,342.67 138.3,342.08 138.91,341.49 139.51,340.9 140.12,340.31 140.72,339.72 141.33,339.14 141.93,338.55 142.54,337.96 143.15,337.37 143.75,336.78 144.36,336.19 144.96,335.61 145.57,335.02 146.17,334.43 146.78,333.84 147.39,333.25 147.99,332.67 148.6,332.08 149.2,331.49 149.81,330.9 150.41,330.31 151.02,329.73 151.63,329.14 152.23,328.55 152.84,327.97 153.44,327.38 154.05,326.79 154.65,326.2 155.26,325.62 155.87,325.03 156.47,324.44 157.08,323.86 157.68,323.27 158.29,322.68 158.89,322.1 159.5,321.51 160.11,320.92 160.71,320.34 161.32,319.75 161.92,319.16 162.53,318.58 163.13,317.99 163.74,317.41 164.35,316.82 164.95,316.23 165.56,315.65 166.16,315.06 166.77,314.48 167.37,313.89 167.98,313.31 168.59,312.72 169.19,312.14 169.8,311.55 170.4,310.97 171.01,310.38 171.62,309.8 172.22,309.21 172.83,308.63 173.43,308.05 174.04,307.46 174.64,306.88 175.25,306.29 175.86,305.71 176.46,305.13 177.07,304.54 177.67,303.96 178.28,303.38 178.88,302.79 179.49,302.21 180.1,301.63 180.7,301.05 181.31,300.46 181.91,299.88 182.52,299.3 183.12,298.72 183.73,298.14 184.34,297.55 184.94,296.97 185.55,296.39 186.15,295.81 186.76,295.23 187.36,294.65 187.97,294.07 188.58,293.49 189.18,292.91 189.79,292.33 190.39,291.75 191,291.17 191.6,290.59 192.21,290.01 192.82,289.43 193.42,288.85 194.03,288.27 194.63,287.69 195.24,287.12 195.84,286.54 196.45,285.96 197.06,285.38 197.66,284.81 198.27,284.23 198.87,283.65 199.48,283.08 200.08,282.5 200.69,281.92 201.3,281.35 201.9,280.77 202.51,280.2 203.11,279.62 203.72,279.05 204.32,278.47 204.93,277.9 205.54,277.32 206.14,276.75 206.75,276.18 207.35,275.6 207.96,275.03 208.56,274.46 209.17,273.89 209.78,273.32 210.38,272.74 210.99,272.17 211.59,271.6 212.2,271.03 212.8,270.46 213.41,269.89 214.02,269.32 214.62,268.75 215.23,268.18 215.83,267.62 216.44,267.05 217.04,266.48 217.65,265.91 218.26,265.35 218.86,264.78 219.47,264.21 220.07,263.65 220.68,263.08 221.28,262.52 221.89,261.95 222.5,261.39 223.1,260.83 223.71,260.26 224.31,259.7 224.92,259.14 225.52,258.58 226.13,258.01 226.74,257.45 227.34,256.89 227.95,256.33 228.55,255.77 229.16,255.22 229.76,254.66 230.37,254.1 230.98,253.54 231.58,252.99 232.19,252.43 232.79,251.87 233.4,251.32 234,250.76 234.61,250.21 235.22,249.66 235.82,249.1 236.43,248.55 237.03,248 237.64,247.45 238.24,246.9 238.85,246.35 239.46,245.8 240.06,245.25 240.67,244.7 241.27,244.15 241.88,243.61 242.48,243.06 243.09,242.52 243.7,241.97 244.3,241.43 244.91,240.88 245.51,240.34 246.12,239.8 246.72,239.26 247.33,238.72 247.94,238.18 248.54,237.64 249.15,237.1 249.75,236.56 250.36,236.03 250.96,235.49 251.57,234.95 252.18,234.42 252.78,233.89 253.39,233.35 253.99,232.82 254.6,232.29 255.2,231.76 255.81,231.23 256.42,230.7 257.02,230.17 257.63,229.65 258.23,229.12 258.84,228.6 259.44,228.07 260.05,227.55 260.66,227.02 261.26,226.5 261.87,225.98 262.47,225.46 263.08,224.94 263.68,224.43 264.29,223.91 264.9,223.39 265.5,222.88 266.11,222.36 266.71,221.85 267.32,221.34 267.92,220.83 268.53,220.32 269.14,219.81 269.74,219.3 270.35,218.79 270.95,218.29 271.56,217.78 272.16,217.28 272.77,216.77 273.38,216.27 273.98,215.77 274.59,215.27 275.19,214.77 275.8,214.27 276.41,213.78 277.01,213.28 277.62,212.79 278.22,212.29 278.83,211.8 279.43,211.31 280.04,210.82 280.65,210.33 281.25,209.84 281.86,209.36 282.46,208.87 283.07,208.39 283.67,207.9 284.28,207.42 284.89,206.94 285.49,206.46 286.1,205.98 286.7,205.51 287.31,205.03 287.91,204.55 288.52,204.08 289.13,203.61 289.73,203.13 290.34,202.66 290.94,202.19 291.55,201.73 292.15,201.26 292.76,200.79 293.37,200.33 293.97,199.86 294.58,199.4 295.18,198.94 295.79,198.48 296.39,198.02 297,197.56 297.61,197.11 298.21,196.65 298.82,196.2 299.42,195.74 300.03,195.29 300.63,194.84 301.24,194.39 301.85,193.94 302.45,193.5 303.06,193.05 303.66,192.6 304.27,192.16 304.87,191.72 305.48,191.28 306.09,190.84 306.69,190.4 307.3,189.96 307.9,189.52 308.51,189.08 309.11,188.65 309.72,188.22 310.33,187.78 310.93,187.35 311.54,186.92 312.14,186.49 312.75,186.06 313.35,185.64 313.96,185.21 314.57,184.78 315.17,184.36 315.78,183.94 316.38,183.52 316.99,183.09 317.59,182.67 318.2,182.26 318.81,181.84 319.41,181.42 320.02,181 320.62,180.59 321.23,180.18 321.83,179.76 322.44,179.35 323.05,178.94 323.65,178.53 324.26,178.12 324.86,177.71 325.47,177.31 326.07,176.9 326.68,176.49 327.29,176.09 327.89,175.69 328.5,175.28 329.1,174.88 329.71,174.48 330.31,174.08 330.92,173.68 331.53,173.28 332.13,172.89 332.74,172.49 333.34,172.1 333.95,171.7 334.55,171.31 335.16,170.91 335.77,170.52 336.37,170.13 336.98,169.74 337.58,169.35 338.19,168.96 338.79,168.57 339.4,168.19 340.01,167.8 340.61,167.42 341.22,167.03 341.82,166.65 342.43,166.26 343.03,165.88 343.64,165.5 344.25,165.12 344.85,164.74 345.46,164.36 346.06,163.98 346.67,163.6 347.27,163.22 347.88,162.85 348.49,162.47 349.09,162.1 349.7,161.72 350.3,161.35 350.91,160.97 351.51,160.6 352.12,160.23 352.73,159.86 353.33,159.49 353.94,159.12 354.54,158.75 355.15,158.38 355.75,158.01 356.36,157.65 356.97,157.28 357.57,156.92 358.18,156.55 358.78,156.19 359.39,155.82 359.99,155.46 360.6,155.1 361.21,154.73 361.81,154.37 362.42,154.01 363.02,153.65 363.63,153.29 364.23,152.93 364.84,152.57 365.45,152.22 366.05,151.86 366.66,151.5 367.26,151.15 367.87,150.79 368.47,150.44 369.08,150.08 369.69,149.73 370.29,149.38 370.9,149.02 371.5,148.67 372.11,148.32 372.71,147.97 373.32,147.62 373.93,147.27 374.53,146.92 375.14,146.57 375.74,146.22 376.35,145.88 376.95,145.53 377.56,145.18 378.17,144.84 378.77,144.49 379.38,144.15 379.98,143.8 380.59,143.46 381.19,143.12 381.8,142.77 382.41,142.43 383.01,142.09 383.62,141.75 384.22,141.41 384.83,141.07 385.44,140.73 386.04,140.39 386.65,140.05 387.25,139.71 387.86,139.37 388.46,139.04 389.07,138.7 389.68,138.36 390.28,138.03 390.89,137.69 391.49,137.36 392.1,137.02 392.7,136.69 393.31,136.35 393.92,136.02 394.52,135.69 395.13,135.35 395.73,135.02 396.34,134.69 396.94,134.36 397.55,134.03 398.16,133.7 398.76,133.37 399.37,133.04 399.97,132.71 400.58,132.38 401.18,132.05 401.79,131.73 402.4,131.4 403,131.07 403.61,130.74 404.21,130.42 404.82,130.09 405.42,129.77 406.03,129.44 406.64,129.12 407.24,128.79 407.85,128.47 408.45,128.14 409.06,127.82 409.66,127.5 410.27,127.18 410.88,126.85 411.48,126.53 412.09,126.21 412.69,125.89 413.3,125.57 413.9,125.25 414.51,124.93 415.12,124.61 415.72,124.29 416.33,123.97 416.93,123.65 417.54,123.33 418.14,123.01 418.75,122.7 419.36,122.38 419.96,122.06 420.57,121.74 421.17,121.43 421.78,121.11 422.38,120.79 422.99,120.48 423.6,120.16 424.2,119.85 424.81,119.53 425.41,119.22 426.02,118.9 426.62,118.59 427.23,118.27 427.84,117.96 428.44,117.65 429.05,117.33 429.65,117.02 430.26,116.71 430.86,116.39 431.47,116.08 432.08,115.77 432.68,115.46 433.29,115.15 433.89,114.84 434.5,114.52 435.1,114.21 435.71,113.9 436.32,113.59 436.92,113.28 437.53,112.97 438.13,112.66 438.74,112.35 439.34,112.04 439.95,111.73 440.56,111.42 441.16,111.12 441.77,110.81 442.37,110.5 442.98,110.19 443.58,109.88 444.19,109.57 444.8,109.27 445.4,108.96 446.01,108.65 446.61,108.34 447.22,108.04 447.82,107.73 448.43,107.42 449.04,107.12 449.64,106.81 450.25,106.5 450.85,106.2 451.46,105.89 452.06,105.59 452.67,105.28 453.28,104.98 453.88,104.67 454.49,104.36 455.09,104.06 455.7,103.75 456.3,103.45 456.91,103.15 457.52,102.84 458.12,102.54 458.73,102.23 459.33,101.93 459.94,101.62 460.54,101.32 461.15,101.02 461.76,100.71 462.36,100.41 462.97,100.11 463.57,99.8 464.18,99.5 464.78,99.2 465.39,98.89 466,98.59 466.6,98.29 467.21,97.99 467.81,97.68 468.42,97.38 469.02,97.08 469.63,96.78 470.24,96.48 470.84,96.17 471.45,95.87 472.05,95.57 472.66,95.27 473.26,94.97 473.87,94.67 474.48,94.36 475.08,94.06 475.69,93.76 476.29,93.46 476.9,93.16 477.5,92.86 478.11,92.56 478.72,92.26 479.32,91.96 479.93,91.66 480.53,91.36 481.14,91.05 481.74,90.75 482.35,90.45 482.96,90.15 483.56,89.85 484.17,89.55 484.77,89.25 485.38,88.95 485.98,88.65 486.59,88.35 487.2,88.05 487.8,87.75 488.41,87.45 489.01,87.16 489.62,86.86 490.23,86.56 490.83,86.26 491.44,85.96 492.04,85.66 492.65,85.36 493.25,85.06 493.86,84.76 494.47,84.46 495.07,84.16 495.68,83.86 496.28,83.57 496.89,83.27 497.49,82.97 498.1,82.67 498.71,82.37 499.31,82.07 499.92,81.77 500.52,81.47 501.13,81.18 501.73,80.88 502.34,80.58 502.95,80.28 503.55,79.98 504.16,79.68 504.76,79.39 505.37,79.09 505.97,78.79 506.58,78.49 507.19,78.19 507.79,77.9 508.4,77.6 509,77.3 509.61,77 510.21,76.7 510.82,76.41 511.43,76.11 512.03,75.81 512.64,75.51 513.24,75.21 513.85,74.92 514.45,74.62 515.06,74.32 515.67,74.02 516.27,73.73 516.88,73.43 517.48,73.13 518.09,72.83 518.69,72.54 519.3,72.24 519.91,71.94 520.51,71.64 521.12,71.35 521.72,71.05 522.33,70.75 522.93,70.46 523.54,70.16 524.15,69.86 524.75,69.56 525.36,69.27 525.96,68.97 526.57,68.67 527.17,68.38 527.78,68.08 528.39,67.78 528.99,67.48 529.6,67.19 530.2,66.89 530.81,66.59 531.41,66.3 532.02,66 532.63,65.7 533.23,65.41 533.84,65.11 534.44,64.81 535.05,64.51 535.65,64.22 536.26,63.92 536.87,63.62 537.47,63.33 538.08,63.03 538.68,62.73 539.29,62.44 539.89,62.14 540.5,61.84" fill="none" stroke="#808080" stroke-width="3.8" stroke-linecap="butt" stroke-linejoin="round" stroke-dasharray="13.3 5.9"/>
<polyline points="117.1,362.51 117.71,361.93 118.31,361.35 118.92,360.77 119.52,360.19 120.13,359.61 120.73,359.03 121.34,358.45 121.95,357.87 122.55,357.29 123.16,356.72 123.76,356.14 124.37,355.56 124.97,354.98 125.58,354.4 126.19,353.83 126.79,353.25 127.4,352.67 128,352.1 128.61,351.52 129.21,350.94 129.82,350.37 130.43,349.79 131.03,349.21 131.64,348.64 132.24,348.06 132.85,347.49 133.45,346.91 134.06,346.34 134.67,345.77 135.27,345.19 135.88,344.62 136.48,344.05 137.09,343.47 137.69,342.9 138.3,342.33 138.91,341.76 139.51,341.18 140.12,340.61 140.72,340.04 141.33,339.47 141.93,338.9 142.54,338.33 143.15,337.76 143.75,337.19 144.36,336.62 144.96,336.05 145.57,335.48 146.17,334.91 146.78,334.34 147.39,333.78 147.99,333.21 148.6,332.64 149.2,332.07 149.81,331.51 150.41,330.94 151.02,330.38 151.63,329.81 152.23,329.25 152.84,328.68 153.44,328.12 154.05,327.55 154.65,326.99 155.26,326.43 155.87,325.86 156.47,325.3 157.08,324.74 157.68,324.18 158.29,323.62 158.89,323.06 159.5,322.5 160.11,321.94 160.71,321.38 161.32,320.82 161.92,320.26 162.53,319.7 163.13,319.15 163.74,318.59 164.35,318.03 164.95,317.48 165.56,316.92 166.16,316.37 166.77,315.81 167.37,315.26 167.98,314.71 168.59,314.15 169.19,313.6 169.8,313.05 170.4,312.5 171.01,311.95 171.62,311.4 172.22,310.85 172.83,310.3 173.43,309.75 174.04,309.2 174.64,308.65 175.25,308.11 175.86,307.56 176.46,307.02 177.07,306.47 177.67,305.93 178.28,305.38 178.88,304.84 179.49,304.3 180.1,303.76 180.7,303.22 181.31,302.67 181.91,302.14 182.52,301.6 183.12,301.06 183.73,300.52 184.34,299.98 184.94,299.45 185.55,298.91 186.15,298.38 186.76,297.84 187.36,297.31 187.97,296.78 188.58,296.24 189.18,295.71 189.79,295.18 190.39,294.65 191,294.12 191.6,293.59 192.21,293.07 192.82,292.54 193.42,292.01 194.03,291.49 194.63,290.96 195.24,290.44 195.84,289.92 196.45,289.4 197.06,288.88 197.66,288.36 198.27,287.84 198.87,287.32 199.48,286.8 200.08,286.28 200.69,285.77 201.3,285.25 201.9,284.74 202.51,284.22 203.11,283.71 203.72,283.2 204.32,282.69 204.93,282.18 205.54,281.67 206.14,281.16 206.75,280.65 207.35,280.15 207.96,279.64 208.56,279.14 209.17,278.63 209.78,278.13 210.38,277.63 210.99,277.13 211.59,276.63 212.2,276.13 212.8,275.63 213.41,275.13 214.02,274.64 214.62,274.14 215.23,273.65 215.83,273.16 216.44,272.66 217.04,272.17 217.65,271.68 218.26,271.19 218.86,270.71 219.47,270.22 220.07,269.73 220.68,269.25 221.28,268.76 221.89,268.28 222.5,267.8 223.1,267.32 223.71,266.83 224.31,266.36 224.92,265.88 225.52,265.4 226.13,264.92 226.74,264.45 227.34,263.97 227.95,263.5 228.55,263.03 229.16,262.56 229.76,262.09 230.37,261.62 230.98,261.15 231.58,260.68 232.19,260.21 232.79,259.75 233.4,259.28 234,258.82 234.61,258.36 235.22,257.9 235.82,257.44 236.43,256.98 237.03,256.52 237.64,256.06 238.24,255.6 238.85,255.15 239.46,254.69 240.06,254.24 240.67,253.79 241.27,253.34 241.88,252.89 242.48,252.44 243.09,251.99 243.7,251.54 244.3,251.09 244.91,250.65 245.51,250.2 246.12,249.76 246.72,249.32 247.33,248.87 247.94,248.43 248.54,247.99 249.15,247.55 249.75,247.11 250.36,246.68 250.96,246.24 251.57,245.8 252.18,245.37 252.78,244.93 253.39,244.5 253.99,244.07 254.6,243.64 255.2,243.21 255.81,242.78 256.42,242.35 257.02,241.92 257.63,241.49 258.23,241.07 258.84,240.64 259.44,240.22 260.05,239.79 260.66,239.37 261.26,238.95 261.87,238.53 262.47,238.11 263.08,237.69 263.68,237.27 264.29,236.85 264.9,236.43 265.5,236.02 266.11,235.6 266.71,235.19 267.32,234.77 267.92,234.36 268.53,233.95 269.14,233.53 269.74,233.12 270.35,232.71 270.95,232.3 271.56,231.89 272.16,231.48 272.77,231.08 273.38,230.67 273.98,230.26 274.59,229.86 275.19,229.45 275.8,229.05 276.41,228.65 277.01,228.25 277.62,227.84 278.22,227.44 278.83,227.04 279.43,226.64 280.04,226.24 280.65,225.84 281.25,225.45 281.86,225.05 282.46,224.65 283.07,224.26 283.67,223.86 284.28,223.47 284.89,223.08 285.49,222.68 286.1,222.29 286.7,221.9 287.31,221.51 287.91,221.12 288.52,220.73 289.13,220.34 289.73,219.95 290.34,219.56 290.94,219.17 291.55,218.79 292.15,218.4 292.76,218.02 293.37,217.63 293.97,217.25 294.58,216.87 295.18,216.48 295.79,216.1 296.39,215.72 297,215.34 297.61,214.96 298.21,214.58 298.82,214.2 299.42,213.82 300.03,213.44 300.63,213.07 301.24,212.69 301.85,212.31 302.45,211.94 303.06,211.56 303.66,211.19 304.27,210.82 304.87,210.44 305.48,210.07 306.09,209.7 306.69,209.33 307.3,208.96 307.9,208.59 308.51,208.22 309.11,207.85 309.72,207.48 310.33,207.11 310.93,206.75 311.54,206.38 312.14,206.02 312.75,205.65 313.35,205.29 313.96,204.92 314.57,204.56 315.17,204.2 315.78,203.83 316.38,203.47 316.99,203.11 317.59,202.75 318.2,202.39 318.81,202.03 319.41,201.67 320.02,201.32 320.62,200.96 321.23,200.6 321.83,200.25 322.44,199.89 323.05,199.53 323.65,199.18 324.26,198.83 324.86,198.47 325.47,198.12 326.07,197.77 326.68,197.42 327.29,197.06 327.89,196.71 328.5,196.36 329.1,196.01 329.71,195.66 330.31,195.32 330.92,194.97 331.53,194.62 332.13,194.27 332.74,193.93 333.34,193.58 333.95,193.24 334.55,192.89 335.16,192.55 335.77,192.2 336.37,191.86 336.98,191.52 337.58,191.17 338.19,190.83 338.79,190.49 339.4,190.15 340.01,189.81 340.61,189.47 341.22,189.13 341.82,188.79 342.43,188.45 343.03,188.12 343.64,187.78 344.25,187.44 344.85,187.11 345.46,186.77 346.06,186.44 346.67,186.1 347.27,185.77 347.88,185.43 348.49,185.1 349.09,184.76 349.7,184.43 350.3,184.1 350.91,183.77 351.51,183.44 352.12,183.11 352.73,182.77 353.33,182.44 353.94,182.11 354.54,181.79 355.15,181.46 355.75,181.13 356.36,180.8 356.97,180.47 357.57,180.14 358.18,179.82 358.78,179.49 359.39,179.17 359.99,178.84 360.6,178.51 361.21,178.19 361.81,177.86 362.42,177.54 363.02,177.22 363.63,176.89 364.23,176.57 364.84,176.25 365.45,175.92 366.05,175.6 366.66,175.28 367.26,174.96 367.87,174.64 368.47,174.32 369.08,174 369.69,173.68 370.29,173.36 370.9,173.04 371.5,172.72 372.11,172.4 372.71,172.08 373.32,171.76 373.93,171.44 374.53,171.13 375.14,170.81 375.74,170.49 376.35,170.18 376.95,169.86 377.56,169.54 378.17,169.23 378.77,168.91 379.38,168.6 379.98,168.28 380.59,167.97 381.19,167.65 381.8,167.34 382.41,167.02 383.01,166.71 383.62,166.4 384.22,166.08 384.83,165.77 385.44,165.46 386.04,165.15 386.65,164.83 387.25,164.52 387.86,164.21 388.46,163.9 389.07,163.59 389.68,163.27 390.28,162.96 390.89,162.65 391.49,162.34 392.1,162.03 392.7,161.72 393.31,161.41 393.92,161.1 394.52,160.79 395.13,160.48 395.73,160.17 396.34,159.87 396.94,159.56 397.55,159.25 398.16,158.94 398.76,158.63 399.37,158.32 399.97,158.02 400.58,157.71 401.18,157.4 401.79,157.09 402.4,156.79 403,156.48 403.61,156.17 404.21,155.87 404.82,155.56 405.42,155.25 406.03,154.95 406.64,154.64 407.24,154.34 407.85,154.03 408.45,153.72 409.06,153.42 409.66,153.11 410.27,152.81 410.88,152.5 411.48,152.2 412.09,151.89 412.69,151.59 413.3,151.28 413.9,150.98 414.51,150.68 415.12,150.37 415.72,150.07 416.33,149.76 416.93,149.46 417.54,149.16 418.14,148.85 418.75,148.55 419.36,148.25 419.96,147.94 420.57,147.64 421.17,147.34 421.78,147.04 422.38,146.73 422.99,146.43 423.6,146.13 424.2,145.83 424.81,145.52 425.41,145.22 426.02,144.92 426.62,144.62 427.23,144.32 427.84,144.01 428.44,143.71 429.05,143.41 429.65,143.11 430.26,142.81 430.86,142.51 431.47,142.2 432.08,141.9 432.68,141.6 433.29,141.3 433.89,141 434.5,140.7 435.1,140.4 435.71,140.1 436.32,139.8 436.92,139.5 437.53,139.2 438.13,138.9 438.74,138.6 439.34,138.3 439.95,138 440.56,137.7 441.16,137.4 441.77,137.1 442.37,136.8 442.98,136.5 443.58,136.2 444.19,135.9 444.8,135.6 445.4,135.3 446.01,135 446.61,134.7 447.22,134.4 447.82,134.1 448.43,133.8 449.04,133.5 449.64,133.2 450.25,132.9 450.85,132.6 451.46,132.3 452.06,132 452.67,131.71 453.28,131.41 453.88,131.11 454.49,130.81 455.09,130.51 455.7,130.21 456.3,129.91 456.91,129.61 457.52,129.32 458.12,129.02 458.73,128.72 459.33,128.42 459.94,128.12 460.54,127.82 461.15,127.53 461.76,127.23 462.36,126.93 462.97,126.63 463.57,126.33 464.18,126.04 464.78,125.74 465.39,125.44 466,125.14 466.6,124.84 467.21,124.55 467.81,124.25 468.42,123.95 469.02,123.65 469.63,123.35 470.24,123.06 470.84,122.76 471.45,122.46 472.05,122.16 472.66,121.87 473.26,121.57 473.87,121.27 474.48,120.97 475.08,120.68 475.69,120.38 476.29,120.08 476.9,119.78 477.5,119.49 478.11,119.19 478.72,118.89 479.32,118.59 479.93,118.3 480.53,118 481.14,117.7 481.74,117.4 482.35,117.11 482.96,116.81 483.56,116.51 484.17,116.22 484.77,115.92 485.38,115.62 485.98,115.32 486.59,115.03 487.2,114.73 487.8,114.43 488.41,114.14 489.01,113.84 489.62,113.54 490.23,113.25 490.83,112.95 491.44,112.65 492.04,112.35 492.65,112.06 493.25,111.76 493.86,111.46 494.47,111.17 495.07,110.87 495.68,110.57 496.28,110.28 496.89,109.98 497.49,109.68 498.1,109.39 498.71,109.09 499.31,108.79 499.92,108.5 500.52,108.2 501.13,107.9 501.73,107.61 502.34,107.31 502.95,107.01 503.55,106.72 504.16,106.42 504.76,106.12 505.37,105.83 505.97,105.53 506.58,105.24 507.19,104.94 507.79,104.64 508.4,104.35 509,104.05 509.61,103.75 510.21,103.46 510.82,103.16 511.43,102.86 512.03,102.57 512.64,102.27 513.24,101.97 513.85,101.68 514.45,101.38 515.06,101.09 515.67,100.79 516.27,100.49 516.88,100.2 517.48,99.9 518.09,99.6 518.69,99.31 519.3,99.01 519.91,98.72 520.51,98.42 521.12,98.12 521.72,97.83 522.33,97.53 522.93,97.23 523.54,96.94 524.15,96.64 524.75,96.35 525.36,96.05 525.96,95.75 526.57,95.46 527.17,95.16 527.78,94.86 528.39,94.57 528.99,94.27 529.6,93.98 530.2,93.68 530.81,93.38 531.41,93.09 532.02,92.79 532.63,92.5 533.23,92.2 533.84,91.9 534.44,91.61 535.05,91.31 535.65,91.02 536.26,90.72 536.87,90.42 537.47,90.13 538.08,89.83 538.68,89.53 539.29,89.24 539.89,88.94 540.5,88.65" fill="none" stroke="#808080" stroke-width="3.8" stroke-linecap="butt" stroke-linejoin="round" stroke-dasharray="13.3 5.9"/>
<polyline points="117.1,364.26 117.71,363.7 118.31,363.15 118.92,362.59 119.52,362.04 120.13,361.48 120.73,360.93 121.34,360.37 121.95,359.82 122.55,359.26 123.16,358.71 123.76,358.16 124.37,357.61 124.97,357.06 125.58,356.51 126.19,355.96 126.79,355.41 127.4,354.86 128,354.31 128.61,353.76 129.21,353.22 129.82,352.67 130.43,352.13 131.03,351.58 131.64,351.04 132.24,350.49 132.85,349.95 133.45,349.41 134.06,348.87 134.67,348.33 135.27,347.79 135.88,347.25 136.48,346.71 137.09,346.17 137.69,345.63 138.3,345.1 138.91,344.56 139.51,344.02 140.12,343.49 140.72,342.96 141.33,342.42 141.93,341.89 142.54,341.36 143.15,340.83 143.75,340.3 144.36,339.77 144.96,339.24 145.57,338.72 146.17,338.19 146.78,337.66 147.39,337.14 147.99,336.61 148.6,336.09 149.2,335.57 149.81,335.05 150.41,334.53 151.02,334.01 151.63,333.49 152.23,332.97 152.84,332.45 153.44,331.93 154.05,331.42 154.65,330.9 155.26,330.39 155.87,329.88 156.47,329.37 157.08,328.85 157.68,328.34 158.29,327.84 158.89,327.33 159.5,326.82 160.11,326.31 160.71,325.81 161.32,325.3 161.92,324.8 162.53,324.3 163.13,323.8 163.74,323.3 164.35,322.8 164.95,322.3 165.56,321.8 166.16,321.31 166.77,320.81 167.37,320.32 167.98,319.82 168.59,319.33 169.19,318.84 169.8,318.35 170.4,317.86 171.01,317.37 171.62,316.88 172.22,316.4 172.83,315.91 173.43,315.43 174.04,314.94 174.64,314.46 175.25,313.98 175.86,313.5 176.46,313.02 177.07,312.54 177.67,312.07 178.28,311.59 178.88,311.12 179.49,310.64 180.1,310.17 180.7,309.7 181.31,309.23 181.91,308.76 182.52,308.29 183.12,307.82 183.73,307.36 184.34,306.89 184.94,306.43 185.55,305.97 186.15,305.5 186.76,305.04 187.36,304.58 187.97,304.12 188.58,303.67 189.18,303.21 189.79,302.75 190.39,302.3 191,301.85 191.6,301.39 192.21,300.94 192.82,300.49 193.42,300.04 194.03,299.59 194.63,299.15 195.24,298.7 195.84,298.25 196.45,297.81 197.06,297.37 197.66,296.92 198.27,296.48 198.87,296.04 199.48,295.6 200.08,295.16 200.69,294.73 201.3,294.29 201.9,293.85 202.51,293.42 203.11,292.99 203.72,292.55 204.32,292.12 204.93,291.69 205.54,291.26 206.14,290.83 206.75,290.41 207.35,289.98 207.96,289.55 208.56,289.13 209.17,288.7 209.78,288.28 210.38,287.86 210.99,287.44 211.59,287.02 212.2,286.6 212.8,286.18 213.41,285.76 214.02,285.34 214.62,284.93 215.23,284.51 215.83,284.1 216.44,283.68 217.04,283.27 217.65,282.86 218.26,282.45 218.86,282.04 219.47,281.63 220.07,281.22 220.68,280.81 221.28,280.4 221.89,280 222.5,279.59 223.1,279.19 223.71,278.78 224.31,278.38 224.92,277.98 225.52,277.58 226.13,277.18 226.74,276.78 227.34,276.38 227.95,275.98 228.55,275.58 229.16,275.19 229.76,274.79 230.37,274.39 230.98,274 231.58,273.6 232.19,273.21 232.79,272.82 233.4,272.43 234,272.04 234.61,271.65 235.22,271.26 235.82,270.87 236.43,270.48 237.03,270.09 237.64,269.7 238.24,269.32 238.85,268.93 239.46,268.55 240.06,268.16 240.67,267.78 241.27,267.4 241.88,267.01 242.48,266.63 243.09,266.25 243.7,265.87 244.3,265.49 244.91,265.11 245.51,264.74 246.12,264.36 246.72,263.98 247.33,263.61 247.94,263.23 248.54,262.85 249.15,262.48 249.75,262.11 250.36,261.73 250.96,261.36 251.57,260.99 252.18,260.62 252.78,260.25 253.39,259.88 253.99,259.51 254.6,259.14 255.2,258.77 255.81,258.4 256.42,258.04 257.02,257.67 257.63,257.31 258.23,256.94 258.84,256.58 259.44,256.21 260.05,255.85 260.66,255.49 261.26,255.12 261.87,254.76 262.47,254.4 263.08,254.04 263.68,253.68 264.29,253.32 264.9,252.96 265.5,252.61 266.11,252.25 266.71,251.89 267.32,251.54 267.92,251.18 268.53,250.83 269.14,250.47 269.74,250.12 270.35,249.76 270.95,249.41 271.56,249.06 272.16,248.71 272.77,248.36 273.38,248.01 273.98,247.66 274.59,247.31 275.19,246.96 275.8,246.61 276.41,246.26 277.01,245.91 277.62,245.57 278.22,245.22 278.83,244.87 279.43,244.53 280.04,244.18 280.65,243.84 281.25,243.5 281.86,243.15 282.46,242.81 283.07,242.47 283.67,242.13 284.28,241.79 284.89,241.45 285.49,241.11 286.1,240.77 286.7,240.43 287.31,240.09 287.91,239.75 288.52,239.41 289.13,239.08 289.73,238.74 290.34,238.4 290.94,238.07 291.55,237.73 292.15,237.4 292.76,237.06 293.37,236.73 293.97,236.39 294.58,236.06 295.18,235.73 295.79,235.4 296.39,235.06 297,234.73 297.61,234.4 298.21,234.07 298.82,233.74 299.42,233.41 300.03,233.08 300.63,232.75 301.24,232.43 301.85,232.1 302.45,231.77 303.06,231.44 303.66,231.12 304.27,230.79 304.87,230.46 305.48,230.14 306.09,229.81 306.69,229.49 307.3,229.16 307.9,228.84 308.51,228.52 309.11,228.19 309.72,227.87 310.33,227.55 310.93,227.22 311.54,226.9 312.14,226.58 312.75,226.26 313.35,225.94 313.96,225.62 314.57,225.3 315.17,224.98 315.78,224.66 316.38,224.34 316.99,224.02 317.59,223.7 318.2,223.38 318.81,223.07 319.41,222.75 320.02,222.43 320.62,222.11 321.23,221.8 321.83,221.48 322.44,221.16 323.05,220.85 323.65,220.53 324.26,220.22 324.86,219.9 325.47,219.59 326.07,219.27 326.68,218.96 327.29,218.64 327.89,218.33 328.5,218.02 329.1,217.7 329.71,217.39 330.31,217.08 330.92,216.76 331.53,216.45 332.13,216.14 332.74,215.83 333.34,215.52 333.95,215.2 334.55,214.89 335.16,214.58 335.77,214.27 336.37,213.96 336.98,213.65 337.58,213.34 338.19,213.03 338.79,212.72 339.4,212.41 340.01,212.1 340.61,211.79 341.22,211.48 341.82,211.17 342.43,210.87 343.03,210.56 343.64,210.25 344.25,209.94 344.85,209.63 345.46,209.33 346.06,209.02 346.67,208.71 347.27,208.4 347.88,208.1 348.49,207.79 349.09,207.48 349.7,207.18 350.3,206.87 350.91,206.57 351.51,206.26 352.12,205.95 352.73,205.65 353.33,205.34 353.94,205.04 354.54,204.73 355.15,204.43 355.75,204.12 356.36,203.82 356.97,203.51 357.57,203.21 358.18,202.9 358.78,202.6 359.39,202.29 359.99,201.99 360.6,201.69 361.21,201.38 361.81,201.08 362.42,200.78 363.02,200.47 363.63,200.17 364.23,199.87 364.84,199.56 365.45,199.26 366.05,198.96 366.66,198.65 367.26,198.35 367.87,198.05 368.47,197.75 369.08,197.45 369.69,197.14 370.29,196.84 370.9,196.54 371.5,196.24 372.11,195.94 372.71,195.63 373.32,195.33 373.93,195.03 374.53,194.73 375.14,194.43 375.74,194.13 376.35,193.83 376.95,193.52 377.56,193.22 378.17,192.92 378.77,192.62 379.38,192.32 379.98,192.02 380.59,191.72 381.19,191.42 381.8,191.12 382.41,190.82 383.01,190.52 383.62,190.22 384.22,189.92 384.83,189.62 385.44,189.32 386.04,189.02 386.65,188.72 387.25,188.42 387.86,188.12 388.46,187.82 389.07,187.52 389.68,187.22 390.28,186.92 390.89,186.62 391.49,186.32 392.1,186.02 392.7,185.72 393.31,185.42 393.92,185.12 394.52,184.82 395.13,184.53 395.73,184.23 396.34,183.93 396.94,183.63 397.55,183.33 398.16,183.03 398.76,182.73 399.37,182.43 399.97,182.13 400.58,181.84 401.18,181.54 401.79,181.24 402.4,180.94 403,180.64 403.61,180.34 404.21,180.05 404.82,179.75 405.42,179.45 406.03,179.15 406.64,178.85 407.24,178.55 407.85,178.26 408.45,177.96 409.06,177.66 409.66,177.36 410.27,177.06 410.88,176.77 411.48,176.47 412.09,176.17 412.69,175.87 413.3,175.58 413.9,175.28 414.51,174.98 415.12,174.68 415.72,174.38 416.33,174.09 416.93,173.79 417.54,173.49 418.14,173.19 418.75,172.9 419.36,172.6 419.96,172.3 420.57,172 421.17,171.71 421.78,171.41 422.38,171.11 422.99,170.81 423.6,170.52 424.2,170.22 424.81,169.92 425.41,169.63 426.02,169.33 426.62,169.03 427.23,168.73 427.84,168.44 428.44,168.14 429.05,167.84 429.65,167.55 430.26,167.25 430.86,166.95 431.47,166.66 432.08,166.36 432.68,166.06 433.29,165.76 433.89,165.47 434.5,165.17 435.1,164.87 435.71,164.58 436.32,164.28 436.92,163.98 437.53,163.69 438.13,163.39 438.74,163.09 439.34,162.8 439.95,162.5 440.56,162.2 441.16,161.91 441.77,161.61 442.37,161.31 442.98,161.02 443.58,160.72 444.19,160.42 444.8,160.13 445.4,159.83 446.01,159.53 446.61,159.24 447.22,158.94 447.82,158.64 448.43,158.35 449.04,158.05 449.64,157.75 450.25,157.46 450.85,157.16 451.46,156.86 452.06,156.57 452.67,156.27 453.28,155.98 453.88,155.68 454.49,155.38 455.09,155.09 455.7,154.79 456.3,154.49 456.91,154.2 457.52,153.9 458.12,153.6 458.73,153.31 459.33,153.01 459.94,152.72 460.54,152.42 461.15,152.12 461.76,151.83 462.36,151.53 462.97,151.23 463.57,150.94 464.18,150.64 464.78,150.35 465.39,150.05 466,149.75 466.6,149.46 467.21,149.16 467.81,148.86 468.42,148.57 469.02,148.27 469.63,147.98 470.24,147.68 470.84,147.38 471.45,147.09 472.05,146.79 472.66,146.5 473.26,146.2 473.87,145.9 474.48,145.61 475.08,145.31 475.69,145.02 476.29,144.72 476.9,144.42 477.5,144.13 478.11,143.83 478.72,143.53 479.32,143.24 479.93,142.94 480.53,142.65 481.14,142.35 481.74,142.05 482.35,141.76 482.96,141.46 483.56,141.17 484.17,140.87 484.77,140.57 485.38,140.28 485.98,139.98 486.59,139.69 487.2,139.39 487.8,139.09 488.41,138.8 489.01,138.5 489.62,138.21 490.23,137.91 490.83,137.61 491.44,137.32 492.04,137.02 492.65,136.73 493.25,136.43 493.86,136.14 494.47,135.84 495.07,135.54 495.68,135.25 496.28,134.95 496.89,134.66 497.49,134.36 498.1,134.06 498.71,133.77 499.31,133.47 499.92,133.18 500.52,132.88 501.13,132.58 501.73,132.29 502.34,131.99 502.95,131.7 503.55,131.4 504.16,131.1 504.76,130.81 505.37,130.51 505.97,130.22 506.58,129.92 507.19,129.63 507.79,129.33 508.4,129.03 509,128.74 509.61,128.44 510.21,128.15 510.82,127.85 511.43,127.55 512.03,127.26 512.64,126.96 513.24,126.67 513.85,126.37 514.45,126.08 515.06,125.78 515.67,125.48 516.27,125.19 516.88,124.89 517.48,124.6 518.09,124.3 518.69,124 519.3,123.71 519.91,123.41 520.51,123.12 521.12,122.82 521.72,122.53 522.33,122.23 522.93,121.93 523.54,121.64 524.15,121.34 524.75,121.05 525.36,120.75 525.96,120.46 526.57,120.16 527.17,119.86 527.78,119.57 528.39,119.27 528.99,118.98 529.6,118.68 530.2,118.38 530.81,118.09 531.41,117.79 532.02,117.5 532.63,117.2 533.23,116.91 533.84,116.61 534.44,116.31 535.05,116.02 535.65,115.72 536.26,115.43 536.87,115.13 537.47,114.84 538.08,114.54 538.68,114.24 539.29,113.95 539.89,113.65 540.5,113.36" fill="none" stroke="#808080" stroke-width="3.8" stroke-linecap="butt" stroke-linejoin="round" stroke-dasharray="13.3 5.9"/>
</g>
<line x1="117.1" y1="382.8" x2="117.1" y2="389" stroke="#000" stroke-width="1.6" stroke-linecap="butt"/>
<line x1="222.95" y1="382.8" x2="222.95" y2="389" stroke="#000" stroke-width="1.6" stroke-linecap="butt"/>
<line x1="328.8" y1="382.8" x2="328.8" y2="389" stroke="#000" stroke-width="1.6" stroke-linecap="butt"/>
<line x1="434.65" y1="382.8" x2="434.65" y2="389" stroke="#000" stroke-width="1.6" stroke-linecap="butt"/>
<line x1="540.5" y1="382.8" x2="540.5" y2="389" stroke="#000" stroke-width="1.6" stroke-linecap="butt"/>
<line x1="148.96" y1="382.8" x2="148.96" y2="386.7" stroke="#000" stroke-width="1.2" stroke-linecap="butt"/>
<line x1="167.6" y1="382.8" x2="167.6" y2="386.7" stroke="#000" stroke-width="1.2" stroke-linecap="butt"/>
<line x1="180.83" y1="382.8" x2="180.83" y2="386.7" stroke="#000" stroke-width="1.2" stroke-linecap="butt"/>
<line x1="191.09" y1="382.8" x2="191.09" y2="386.7" stroke="#000" stroke-width="1.2" stroke-linecap="butt"/>
<line x1="199.47" y1="382.8" x2="199.47" y2="386.7" stroke="#000" stroke-width="1.2" stroke-linecap="butt"/>
<line x1="206.55" y1="382.8" x2="206.55" y2="386.7" stroke="#000" stroke-width="1.2" stroke-linecap="butt"/>
<line x1="212.69" y1="382.8" x2="212.69" y2="386.7" stroke="#000" stroke-width="1.2" stroke-linecap="butt"/>
<line x1="218.11" y1="382.8" x2="218.11" y2="386.7" stroke="#000" stroke-width="1.2" stroke-linecap="butt"/>
<line x1="254.81" y1="382.8" x2="254.81" y2="386.7" stroke="#000" stroke-width="1.2" stroke-linecap="butt"/>
<line x1="273.45" y1="382.8" x2="273.45" y2="386.7" stroke="#000" stroke-width="1.2" stroke-linecap="butt"/>
<line x1="286.68" y1="382.8" x2="286.68" y2="386.7" stroke="#000" stroke-width="1.2" stroke-linecap="butt"/>
<line x1="296.94" y1="382.8" x2="296.94" y2="386.7" stroke="#000" stroke-width="1.2" stroke-linecap="butt"/>
<line x1="305.32" y1="382.8" x2="305.32" y2="386.7" stroke="#000" stroke-width="1.2" stroke-linecap="butt"/>
<line x1="312.4" y1="382.8" x2="312.4" y2="386.7" stroke="#000" stroke-width="1.2" stroke-linecap="butt"/>
<line x1="318.54" y1="382.8" x2="318.54" y2="386.7" stroke="#000" stroke-width="1.2" stroke-linecap="butt"/>
<line x1="323.96" y1="382.8" x2="323.96" y2="386.7" stroke="#000" stroke-width="1.2" stroke-linecap="butt"/>
<line x1="360.66" y1="382.8" x2="360.66" y2="386.7" stroke="#000" stroke-width="1.2" stroke-linecap="butt"/>
<line x1="379.3" y1="382.8" x2="379.3" y2="386.7" stroke="#000" stroke-width="1.2" stroke-linecap="butt"/>
<line x1="392.53" y1="382.8" x2="392.53" y2="386.7" stroke="#000" stroke-width="1.2" stroke-linecap="butt"/>
<line x1="402.79" y1="382.8" x2="402.79" y2="386.7" stroke="#000" stroke-width="1.2" stroke-linecap="butt"/>
<line x1="411.17" y1="382.8" x2="411.17" y2="386.7" stroke="#000" stroke-width="1.2" stroke-linecap="butt"/>
<line x1="418.25" y1="382.8" x2="418.25" y2="386.7" stroke="#000" stroke-width="1.2" stroke-linecap="butt"/>
<line x1="424.39" y1="382.8" x2="424.39" y2="386.7" stroke="#000" stroke-width="1.2" stroke-linecap="butt"/>
<line x1="429.81" y1="382.8" x2="429.81" y2="386.7" stroke="#000" stroke-width="1.2" stroke-linecap="butt"/>
<line x1="466.51" y1="382.8" x2="466.51" y2="386.7" stroke="#000" stroke-width="1.2" stroke-linecap="butt"/>
<line x1="485.15" y1="382.8" x2="485.15" y2="386.7" stroke="#000" stroke-width="1.2" stroke-linecap="butt"/>
<line x1="498.38" y1="382.8" x2="498.38" y2="386.7" stroke="#000" stroke-width="1.2" stroke-linecap="butt"/>
<line x1="508.64" y1="382.8" x2="508.64" y2="386.7" stroke="#000" stroke-width="1.2" stroke-linecap="butt"/>
<line x1="517.02" y1="382.8" x2="517.02" y2="386.7" stroke="#000" stroke-width="1.2" stroke-linecap="butt"/>
<line x1="524.1" y1="382.8" x2="524.1" y2="386.7" stroke="#000" stroke-width="1.2" stroke-linecap="butt"/>
<line x1="530.24" y1="382.8" x2="530.24" y2="386.7" stroke="#000" stroke-width="1.2" stroke-linecap="butt"/>
<line x1="535.66" y1="382.8" x2="535.66" y2="386.7" stroke="#000" stroke-width="1.2" stroke-linecap="butt"/>
<line x1="117.1" y1="382.8" x2="110.9" y2="382.8" stroke="#000" stroke-width="1.6" stroke-linecap="butt"/>
<line x1="117.1" y1="331.13" x2="110.9" y2="331.13" stroke="#000" stroke-width="1.6" stroke-linecap="butt"/>
<line x1="117.1" y1="279.46" x2="110.9" y2="279.46" stroke="#000" stroke-width="1.6" stroke-linecap="butt"/>
<line x1="117.1" y1="227.79" x2="110.9" y2="227.79" stroke="#000" stroke-width="1.6" stroke-linecap="butt"/>
<line x1="117.1" y1="176.11" x2="110.9" y2="176.11" stroke="#000" stroke-width="1.6" stroke-linecap="butt"/>
<line x1="117.1" y1="124.44" x2="110.9" y2="124.44" stroke="#000" stroke-width="1.6" stroke-linecap="butt"/>
<line x1="117.1" y1="72.77" x2="110.9" y2="72.77" stroke="#000" stroke-width="1.6" stroke-linecap="butt"/>
<line x1="117.1" y1="21.1" x2="110.9" y2="21.1" stroke="#000" stroke-width="1.6" stroke-linecap="butt"/>
<line x1="117.1" y1="367.25" x2="113.2" y2="367.25" stroke="#000" stroke-width="1.2" stroke-linecap="butt"/>
<line x1="117.1" y1="358.15" x2="113.2" y2="358.15" stroke="#000" stroke-width="1.2" stroke-linecap="butt"/>
<line x1="117.1" y1="351.69" x2="113.2" y2="351.69" stroke="#000" stroke-width="1.2" stroke-linecap="butt"/>
<line x1="117.1" y1="346.68" x2="113.2" y2="346.68" stroke="#000" stroke-width="1.2" stroke-linecap="butt"/>
<line x1="117.1" y1="342.59" x2="113.2" y2="342.59" stroke="#000" stroke-width="1.2" stroke-linecap="butt"/>
<line x1="117.1" y1="339.13" x2="113.2" y2="339.13" stroke="#000" stroke-width="1.2" stroke-linecap="butt"/>
<line x1="117.1" y1="336.14" x2="113.2" y2="336.14" stroke="#000" stroke-width="1.2" stroke-linecap="butt"/>
<line x1="117.1" y1="333.49" x2="113.2" y2="333.49" stroke="#000" stroke-width="1.2" stroke-linecap="butt"/>
<line x1="117.1" y1="315.57" x2="113.2" y2="315.57" stroke="#000" stroke-width="1.2" stroke-linecap="butt"/>
<line x1="117.1" y1="306.48" x2="113.2" y2="306.48" stroke="#000" stroke-width="1.2" stroke-linecap="butt"/>
<line x1="117.1" y1="300.02" x2="113.2" y2="300.02" stroke="#000" stroke-width="1.2" stroke-linecap="butt"/>
<line x1="117.1" y1="295.01" x2="113.2" y2="295.01" stroke="#000" stroke-width="1.2" stroke-linecap="butt"/>
<line x1="117.1" y1="290.92" x2="113.2" y2="290.92" stroke="#000" stroke-width="1.2" stroke-linecap="butt"/>
<line x1="117.1" y1="287.46" x2="113.2" y2="287.46" stroke="#000" stroke-width="1.2" stroke-linecap="butt"/>
<line x1="117.1" y1="284.46" x2="113.2" y2="284.46" stroke="#000" stroke-width="1.2" stroke-linecap="butt"/>
<line x1="117.1" y1="281.82" x2="113.2" y2="281.82" stroke="#000" stroke-width="1.2" stroke-linecap="butt"/>
<line x1="117.1" y1="263.9" x2="113.2" y2="263.9" stroke="#000" stroke-width="1.2" stroke-linecap="butt"/>
<line x1="117.1" y1="254.8" x2="113.2" y2="254.8" stroke="#000" stroke-width="1.2" stroke-linecap="butt"/>
<line x1="117.1" y1="248.35" x2="113.2" y2="248.35" stroke="#000" stroke-width="1.2" stroke-linecap="butt"/>
<line x1="117.1" y1="243.34" x2="113.2" y2="243.34" stroke="#000" stroke-width="1.2" stroke-linecap="butt"/>
<line x1="117.1" y1="239.25" x2="113.2" y2="239.25" stroke="#000" stroke-width="1.2" stroke-linecap="butt"/>
<line x1="117.1" y1="235.79" x2="113.2" y2="235.79" stroke="#000" stroke-width="1.2" stroke-linecap="butt"/>
<line x1="117.1" y1="232.79" x2="113.2" y2="232.79" stroke="#000" stroke-width="1.2" stroke-linecap="butt"/>
<line x1="117.1" y1="230.15" x2="113.2" y2="230.15" stroke="#000" stroke-width="1.2" stroke-linecap="butt"/>
<line x1="117.1" y1="212.23" x2="113.2" y2="212.23" stroke="#000" stroke-width="1.2" stroke-linecap="butt"/>
<line x1="117.1" y1="203.13" x2="113.2" y2="203.13" stroke="#000" stroke-width="1.2" stroke-linecap="butt"/>
<line x1="117.1" y1="196.68" x2="113.2" y2="196.68" stroke="#000" stroke-width="1.2" stroke-linecap="butt"/>
<line x1="117.1" y1="191.67" x2="113.2" y2="191.67" stroke="#000" stroke-width="1.2" stroke-linecap="butt"/>
<line x1="117.1" y1="187.58" x2="113.2" y2="187.58" stroke="#000" stroke-width="1.2" stroke-linecap="butt"/>
<line x1="117.1" y1="184.12" x2="113.2" y2="184.12" stroke="#000" stroke-width="1.2" stroke-linecap="butt"/>
<line x1="117.1" y1="181.12" x2="113.2" y2="181.12" stroke="#000" stroke-width="1.2" stroke-linecap="butt"/>
<line x1="117.1" y1="178.48" x2="113.2" y2="178.48" stroke="#000" stroke-width="1.2" stroke-linecap="butt"/>
<line x1="117.1" y1="160.56" x2="113.2" y2="160.56" stroke="#000" stroke-width="1.2" stroke-linecap="butt"/>
<line x1="117.1" y1="151.46" x2="113.2" y2="151.46" stroke="#000" stroke-width="1.2" stroke-linecap="butt"/>
<line x1="117.1" y1="145" x2="113.2" y2="145" stroke="#000" stroke-width="1.2" stroke-linecap="butt"/>
<line x1="117.1" y1="140" x2="113.2" y2="140" stroke="#000" stroke-width="1.2" stroke-linecap="butt"/>
<line x1="117.1" y1="135.91" x2="113.2" y2="135.91" stroke="#000" stroke-width="1.2" stroke-linecap="butt"/>
<line x1="117.1" y1="132.45" x2="113.2" y2="132.45" stroke="#000" stroke-width="1.2" stroke-linecap="butt"/>
<line x1="117.1" y1="129.45" x2="113.2" y2="129.45" stroke="#000" stroke-width="1.2" stroke-linecap="butt"/>
<line x1="117.1" y1="126.81" x2="113.2" y2="126.81" stroke="#000" stroke-width="1.2" stroke-linecap="butt"/>
<line x1="117.1" y1="108.89" x2="113.2" y2="108.89" stroke="#000" stroke-width="1.2" stroke-linecap="butt"/>
<line x1="117.1" y1="99.79" x2="113.2" y2="99.79" stroke="#000" stroke-width="1.2" stroke-linecap="butt"/>
<line x1="117.1" y1="93.33" x2="113.2" y2="93.33" stroke="#000" stroke-width="1.2" stroke-linecap="butt"/>
<line x1="117.1" y1="88.33" x2="113.2" y2="88.33" stroke="#000" stroke-width="1.2" stroke-linecap="butt"/>
<line x1="117.1" y1="84.23" x2="113.2" y2="84.23" stroke="#000" stroke-width="1.2" stroke-linecap="butt"/>
<line x1="117.1" y1="80.78" x2="113.2" y2="80.78" stroke="#000" stroke-width="1.2" stroke-linecap="butt"/>
<line x1="117.1" y1="77.78" x2="113.2" y2="77.78" stroke="#000" stroke-width="1.2" stroke-linecap="butt"/>
<line x1="117.1" y1="75.14" x2="113.2" y2="75.14" stroke="#000" stroke-width="1.2" stroke-linecap="butt"/>
<line x1="117.1" y1="57.22" x2="113.2" y2="57.22" stroke="#000" stroke-width="1.2" stroke-linecap="butt"/>
<line x1="117.1" y1="48.12" x2="113.2" y2="48.12" stroke="#000" stroke-width="1.2" stroke-linecap="butt"/>
<line x1="117.1" y1="41.66" x2="113.2" y2="41.66" stroke="#000" stroke-width="1.2" stroke-linecap="butt"/>
<line x1="117.1" y1="36.65" x2="113.2" y2="36.65" stroke="#000" stroke-width="1.2" stroke-linecap="butt"/>
<line x1="117.1" y1="32.56" x2="113.2" y2="32.56" stroke="#000" stroke-width="1.2" stroke-linecap="butt"/>
<line x1="117.1" y1="29.1" x2="113.2" y2="29.1" stroke="#000" stroke-width="1.2" stroke-linecap="butt"/>
<line x1="117.1" y1="26.11" x2="113.2" y2="26.11" stroke="#000" stroke-width="1.2" stroke-linecap="butt"/>
<line x1="117.1" y1="23.46" x2="113.2" y2="23.46" stroke="#000" stroke-width="1.2" stroke-linecap="butt"/>
<rect x="117.1" y="21.1" width="423.4" height="361.7" fill="none" stroke="#000" stroke-width="1.6" stroke-linejoin="miter"/>
<g>
<line x1="737.35" y1="382.6" x2="737.35" y2="21.1" stroke="#a0a0a0" stroke-width="1.45" stroke-linecap="butt"/>
<line x1="948.9" y1="382.6" x2="948.9" y2="21.1" stroke="#a0a0a0" stroke-width="1.45" stroke-linecap="butt"/>
<line x1="704.58" y1="382.6" x2="704.58" y2="21.1" stroke="#7c7c7c" stroke-width="1.05" stroke-linecap="butt" stroke-dasharray="3.2 1.7"/>
<line x1="716.85" y1="382.6" x2="716.85" y2="21.1" stroke="#7c7c7c" stroke-width="1.05" stroke-linecap="butt" stroke-dasharray="3.2 1.7"/>
<line x1="727.67" y1="382.6" x2="727.67" y2="21.1" stroke="#7c7c7c" stroke-width="1.05" stroke-linecap="butt" stroke-dasharray="3.2 1.7"/>
<line x1="801.03" y1="382.6" x2="801.03" y2="21.1" stroke="#7c7c7c" stroke-width="1.05" stroke-linecap="butt" stroke-dasharray="3.2 1.7"/>
<line x1="838.29" y1="382.6" x2="838.29" y2="21.1" stroke="#7c7c7c" stroke-width="1.05" stroke-linecap="butt" stroke-dasharray="3.2 1.7"/>
<line x1="864.72" y1="382.6" x2="864.72" y2="21.1" stroke="#7c7c7c" stroke-width="1.05" stroke-linecap="butt" stroke-dasharray="3.2 1.7"/>
<line x1="885.22" y1="382.6" x2="885.22" y2="21.1" stroke="#7c7c7c" stroke-width="1.05" stroke-linecap="butt" stroke-dasharray="3.2 1.7"/>
<line x1="901.97" y1="382.6" x2="901.97" y2="21.1" stroke="#7c7c7c" stroke-width="1.05" stroke-linecap="butt" stroke-dasharray="3.2 1.7"/>
<line x1="916.13" y1="382.6" x2="916.13" y2="21.1" stroke="#7c7c7c" stroke-width="1.05" stroke-linecap="butt" stroke-dasharray="3.2 1.7"/>
<line x1="928.4" y1="382.6" x2="928.4" y2="21.1" stroke="#7c7c7c" stroke-width="1.05" stroke-linecap="butt" stroke-dasharray="3.2 1.7"/>
<line x1="939.22" y1="382.6" x2="939.22" y2="21.1" stroke="#7c7c7c" stroke-width="1.05" stroke-linecap="butt" stroke-dasharray="3.2 1.7"/>
<line x1="1012.58" y1="382.6" x2="1012.58" y2="21.1" stroke="#7c7c7c" stroke-width="1.05" stroke-linecap="butt" stroke-dasharray="3.2 1.7"/>
<line x1="1049.84" y1="382.6" x2="1049.84" y2="21.1" stroke="#7c7c7c" stroke-width="1.05" stroke-linecap="butt" stroke-dasharray="3.2 1.7"/>
<line x1="1076.27" y1="382.6" x2="1076.27" y2="21.1" stroke="#7c7c7c" stroke-width="1.05" stroke-linecap="butt" stroke-dasharray="3.2 1.7"/>
<line x1="1096.77" y1="382.6" x2="1096.77" y2="21.1" stroke="#7c7c7c" stroke-width="1.05" stroke-linecap="butt" stroke-dasharray="3.2 1.7"/>
<line x1="1113.52" y1="382.6" x2="1113.52" y2="21.1" stroke="#7c7c7c" stroke-width="1.05" stroke-linecap="butt" stroke-dasharray="3.2 1.7"/>
<line x1="695" y1="350.91" x2="1118.1" y2="350.91" stroke="#a0a0a0" stroke-width="1.45" stroke-linecap="butt"/>
<line x1="695" y1="264.74" x2="1118.1" y2="264.74" stroke="#a0a0a0" stroke-width="1.45" stroke-linecap="butt"/>
<line x1="695" y1="178.57" x2="1118.1" y2="178.57" stroke="#a0a0a0" stroke-width="1.45" stroke-linecap="butt"/>
<line x1="695" y1="92.4" x2="1118.1" y2="92.4" stroke="#a0a0a0" stroke-width="1.45" stroke-linecap="butt"/>
<line x1="695" y1="376.85" x2="1118.1" y2="376.85" stroke="#7c7c7c" stroke-width="1.05" stroke-linecap="butt" stroke-dasharray="3.2 1.7"/>
<line x1="695" y1="370.03" x2="1118.1" y2="370.03" stroke="#7c7c7c" stroke-width="1.05" stroke-linecap="butt" stroke-dasharray="3.2 1.7"/>
<line x1="695" y1="364.26" x2="1118.1" y2="364.26" stroke="#7c7c7c" stroke-width="1.05" stroke-linecap="butt" stroke-dasharray="3.2 1.7"/>
<line x1="695" y1="359.26" x2="1118.1" y2="359.26" stroke="#7c7c7c" stroke-width="1.05" stroke-linecap="butt" stroke-dasharray="3.2 1.7"/>
<line x1="695" y1="354.85" x2="1118.1" y2="354.85" stroke="#7c7c7c" stroke-width="1.05" stroke-linecap="butt" stroke-dasharray="3.2 1.7"/>
<line x1="695" y1="324.97" x2="1118.1" y2="324.97" stroke="#7c7c7c" stroke-width="1.05" stroke-linecap="butt" stroke-dasharray="3.2 1.7"/>
<line x1="695" y1="309.8" x2="1118.1" y2="309.8" stroke="#7c7c7c" stroke-width="1.05" stroke-linecap="butt" stroke-dasharray="3.2 1.7"/>
<line x1="695" y1="299.03" x2="1118.1" y2="299.03" stroke="#7c7c7c" stroke-width="1.05" stroke-linecap="butt" stroke-dasharray="3.2 1.7"/>
<line x1="695" y1="290.68" x2="1118.1" y2="290.68" stroke="#7c7c7c" stroke-width="1.05" stroke-linecap="butt" stroke-dasharray="3.2 1.7"/>
<line x1="695" y1="283.86" x2="1118.1" y2="283.86" stroke="#7c7c7c" stroke-width="1.05" stroke-linecap="butt" stroke-dasharray="3.2 1.7"/>
<line x1="695" y1="278.09" x2="1118.1" y2="278.09" stroke="#7c7c7c" stroke-width="1.05" stroke-linecap="butt" stroke-dasharray="3.2 1.7"/>
<line x1="695" y1="273.09" x2="1118.1" y2="273.09" stroke="#7c7c7c" stroke-width="1.05" stroke-linecap="butt" stroke-dasharray="3.2 1.7"/>
<line x1="695" y1="268.68" x2="1118.1" y2="268.68" stroke="#7c7c7c" stroke-width="1.05" stroke-linecap="butt" stroke-dasharray="3.2 1.7"/>
<line x1="695" y1="238.8" x2="1118.1" y2="238.8" stroke="#7c7c7c" stroke-width="1.05" stroke-linecap="butt" stroke-dasharray="3.2 1.7"/>
<line x1="695" y1="223.63" x2="1118.1" y2="223.63" stroke="#7c7c7c" stroke-width="1.05" stroke-linecap="butt" stroke-dasharray="3.2 1.7"/>
<line x1="695" y1="212.86" x2="1118.1" y2="212.86" stroke="#7c7c7c" stroke-width="1.05" stroke-linecap="butt" stroke-dasharray="3.2 1.7"/>
<line x1="695" y1="204.51" x2="1118.1" y2="204.51" stroke="#7c7c7c" stroke-width="1.05" stroke-linecap="butt" stroke-dasharray="3.2 1.7"/>
<line x1="695" y1="197.69" x2="1118.1" y2="197.69" stroke="#7c7c7c" stroke-width="1.05" stroke-linecap="butt" stroke-dasharray="3.2 1.7"/>
<line x1="695" y1="191.92" x2="1118.1" y2="191.92" stroke="#7c7c7c" stroke-width="1.05" stroke-linecap="butt" stroke-dasharray="3.2 1.7"/>
<line x1="695" y1="186.92" x2="1118.1" y2="186.92" stroke="#7c7c7c" stroke-width="1.05" stroke-linecap="butt" stroke-dasharray="3.2 1.7"/>
<line x1="695" y1="182.51" x2="1118.1" y2="182.51" stroke="#7c7c7c" stroke-width="1.05" stroke-linecap="butt" stroke-dasharray="3.2 1.7"/>
<line x1="695" y1="152.63" x2="1118.1" y2="152.63" stroke="#7c7c7c" stroke-width="1.05" stroke-linecap="butt" stroke-dasharray="3.2 1.7"/>
<line x1="695" y1="137.46" x2="1118.1" y2="137.46" stroke="#7c7c7c" stroke-width="1.05" stroke-linecap="butt" stroke-dasharray="3.2 1.7"/>
<line x1="695" y1="126.69" x2="1118.1" y2="126.69" stroke="#7c7c7c" stroke-width="1.05" stroke-linecap="butt" stroke-dasharray="3.2 1.7"/>
<line x1="695" y1="118.34" x2="1118.1" y2="118.34" stroke="#7c7c7c" stroke-width="1.05" stroke-linecap="butt" stroke-dasharray="3.2 1.7"/>
<line x1="695" y1="111.52" x2="1118.1" y2="111.52" stroke="#7c7c7c" stroke-width="1.05" stroke-linecap="butt" stroke-dasharray="3.2 1.7"/>
<line x1="695" y1="105.75" x2="1118.1" y2="105.75" stroke="#7c7c7c" stroke-width="1.05" stroke-linecap="butt" stroke-dasharray="3.2 1.7"/>
<line x1="695" y1="100.75" x2="1118.1" y2="100.75" stroke="#7c7c7c" stroke-width="1.05" stroke-linecap="butt" stroke-dasharray="3.2 1.7"/>
<line x1="695" y1="96.34" x2="1118.1" y2="96.34" stroke="#7c7c7c" stroke-width="1.05" stroke-linecap="butt" stroke-dasharray="3.2 1.7"/>
<line x1="695" y1="66.46" x2="1118.1" y2="66.46" stroke="#7c7c7c" stroke-width="1.05" stroke-linecap="butt" stroke-dasharray="3.2 1.7"/>
<line x1="695" y1="51.29" x2="1118.1" y2="51.29" stroke="#7c7c7c" stroke-width="1.05" stroke-linecap="butt" stroke-dasharray="3.2 1.7"/>
<line x1="695" y1="40.52" x2="1118.1" y2="40.52" stroke="#7c7c7c" stroke-width="1.05" stroke-linecap="butt" stroke-dasharray="3.2 1.7"/>
<line x1="695" y1="32.17" x2="1118.1" y2="32.17" stroke="#7c7c7c" stroke-width="1.05" stroke-linecap="butt" stroke-dasharray="3.2 1.7"/>
<line x1="695" y1="25.35" x2="1118.1" y2="25.35" stroke="#7c7c7c" stroke-width="1.05" stroke-linecap="butt" stroke-dasharray="3.2 1.7"/>
</g>
<g clip-path="url(#cb)" fill="#808080" stroke="#808080" stroke-width="0.8">
<rect x="731.6" y="245.3" width="11.6" height="11.6"/>
<rect x="832.3" y="169.4" width="11.6" height="11.6"/>
<rect x="943" y="107.6" width="11.6" height="11.6"/>
<rect x="1044" y="61.4" width="11.6" height="11.6"/>
<circle cx="737" cy="291.4" r="5.8"/>
<circle cx="838.1" cy="213" r="5.8"/>
<circle cx="948.8" cy="129.8" r="5.8"/>
<circle cx="1049.8" cy="73.5" r="5.8"/>
<polygon points="737.7,321.7 731.9,333.3 743.5,333.3"/>
<polygon points="838.1,238.5 832.3,250.1 843.9,250.1"/>
<polygon points="948.9,159.6 943.1,171.2 954.7,171.2"/>
<polygon points="1049.8,88.7 1044,100.3 1055.6,100.3"/>
</g>
<g clip-path="url(#cb)">
<polyline points="695.04,279.92 696.99,278.36 698.93,276.81 700.88,275.26 702.82,273.71 704.77,272.17 706.71,270.63 708.66,269.09 710.6,267.56 712.55,266.03 714.49,264.5 716.44,262.98 718.38,261.46 720.33,259.94 722.27,258.43 724.22,256.92 726.16,255.41 728.11,253.91 730.05,252.41 732,250.91 733.94,249.42 735.89,247.93 737.83,246.45 739.78,244.97 741.72,243.49 743.67,242.02 745.61,240.55 747.56,239.09 749.5,237.63 751.45,236.17 753.39,234.72 755.34,233.27 757.28,231.83 759.23,230.39 761.17,228.96 763.12,227.53 765.06,226.1 767.01,224.68 768.95,223.26 770.9,221.85 772.84,220.44 774.79,219.04 776.73,217.64 778.68,216.24 780.62,214.85 782.57,213.47 784.51,212.08 786.46,210.71 788.4,209.34 790.35,207.97 792.29,206.6 794.24,205.25 796.18,203.89 798.13,202.55 800.07,201.2 802.02,199.86 803.96,198.53 805.91,197.2 807.85,195.87 809.8,194.55 811.74,193.24 813.69,191.93 815.63,190.62 817.58,189.32 819.52,188.03 821.47,186.74 823.41,185.45 825.36,184.17 827.3,182.9 829.25,181.63 831.19,180.36 833.14,179.1 835.08,177.84 837.03,176.59 838.97,175.35 840.92,174.11 842.86,172.87 844.81,171.64 846.75,170.41 848.7,169.19 850.64,167.98 852.59,166.76 854.53,165.56 856.48,164.36 858.42,163.16 860.37,161.97 862.31,160.79 864.26,159.6 866.2,158.43 868.15,157.26 870.09,156.09 872.04,154.93 873.98,153.77 875.93,152.62 877.87,151.48 879.82,150.33 881.76,149.2 883.71,148.07 885.65,146.94 887.6,145.82 889.54,144.7 891.49,143.59 893.43,142.48 895.38,141.38 897.32,140.28 899.27,139.19 901.21,138.1 903.16,137.02 905.1,135.94 907.05,134.86 908.99,133.8 910.94,132.73 912.88,131.67 914.83,130.62 916.77,129.57 918.72,128.52 920.66,127.48 922.61,126.44 924.55,125.41 926.5,124.38 928.44,123.36 930.39,122.34 932.33,121.33 934.28,120.31 936.22,119.31 938.17,118.31 940.11,117.31 942.06,116.32 944,115.33 945.95,114.35 947.89,113.37 949.84,112.39 951.78,111.42 953.73,110.45 955.67,109.49 957.62,108.53 959.56,107.57 961.51,106.62 963.45,105.67 965.4,104.73 967.34,103.79 969.29,102.85 971.23,101.92 973.18,100.99 975.12,100.06 977.07,99.14 979.01,98.22 980.96,97.31 982.9,96.4 984.85,95.49 986.79,94.59 988.74,93.68 990.68,92.79 992.63,91.89 994.57,91 996.52,90.11 998.46,89.23 1000.41,88.35 1002.35,87.47 1004.3,86.59 1006.24,85.72 1008.19,84.85 1010.13,83.98 1012.08,83.11 1014.02,82.25 1015.97,81.39 1017.91,80.54 1019.86,79.68 1021.8,78.83 1023.75,77.98 1025.69,77.13 1027.64,76.29 1029.58,75.45 1031.53,74.6 1033.47,73.77 1035.42,72.93 1037.36,72.09 1039.31,71.26 1041.25,70.43 1043.2,69.6 1045.14,68.78 1047.09,67.95 1049.03,67.13 1050.98,66.3 1052.92,65.48 1054.87,64.66 1056.81,63.84 1058.76,63.03 1060.7,62.21 1062.65,61.39 1064.59,60.58 1066.54,59.77 1068.48,58.95 1070.43,58.14 1072.37,57.33 1074.32,56.52 1076.26,55.71 1078.21,54.9 1080.15,54.1 1082.1,53.29 1084.04,52.48 1085.99,51.67 1087.93,50.86 1089.88,50.05 1091.82,49.25 1093.77,48.44 1095.71,47.63 1097.66,46.82 1099.6,46.01 1101.55,45.2 1103.49,44.39 1105.44,43.58 1107.38,42.77 1109.33,41.96 1111.27,41.14 1113.22,40.33 1115.16,39.51 1117.11,38.7 1119.05,37.88 1121,37.06" fill="none" stroke="#000" stroke-width="3.6" stroke-linecap="square" stroke-linejoin="round"/>
<polyline points="695.04,324.71 696.99,323.21 698.93,321.71 700.88,320.21 702.82,318.7 704.77,317.18 706.71,315.66 708.66,314.14 710.6,312.61 712.55,311.08 714.49,309.55 716.44,308.01 718.38,306.47 720.33,304.92 722.27,303.38 724.22,301.82 726.16,300.27 728.11,298.71 730.05,297.15 732,295.59 733.94,294.03 735.89,292.46 737.83,290.89 739.78,289.32 741.72,287.75 743.67,286.17 745.61,284.6 747.56,283.02 749.5,281.44 751.45,279.86 753.39,278.28 755.34,276.7 757.28,275.12 759.23,273.54 761.17,271.95 763.12,270.37 765.06,268.78 767.01,267.2 768.95,265.61 770.9,264.03 772.84,262.44 774.79,260.86 776.73,259.27 778.68,257.69 780.62,256.11 782.57,254.52 784.51,252.94 786.46,251.36 788.4,249.78 790.35,248.2 792.29,246.62 794.24,245.04 796.18,243.47 798.13,241.89 800.07,240.32 802.02,238.75 803.96,237.18 805.91,235.61 807.85,234.05 809.8,232.49 811.74,230.92 813.69,229.37 815.63,227.81 817.58,226.25 819.52,224.7 821.47,223.15 823.41,221.61 825.36,220.06 827.3,218.52 829.25,216.98 831.19,215.44 833.14,213.91 835.08,212.38 837.03,210.86 838.97,209.33 840.92,207.81 842.86,206.3 844.81,204.78 846.75,203.27 848.7,201.77 850.64,200.26 852.59,198.76 854.53,197.27 856.48,195.78 858.42,194.29 860.37,192.81 862.31,191.33 864.26,189.85 866.2,188.38 868.15,186.91 870.09,185.45 872.04,183.99 873.98,182.54 875.93,181.09 877.87,179.64 879.82,178.2 881.76,176.76 883.71,175.33 885.65,173.91 887.6,172.48 889.54,171.06 891.49,169.65 893.43,168.24 895.38,166.84 897.32,165.44 899.27,164.05 901.21,162.66 903.16,161.28 905.1,159.9 907.05,158.52 908.99,157.15 910.94,155.79 912.88,154.43 914.83,153.08 916.77,151.73 918.72,150.39 920.66,149.05 922.61,147.72 924.55,146.39 926.5,145.07 928.44,143.75 930.39,142.44 932.33,141.14 934.28,139.84 936.22,138.54 938.17,137.25 940.11,135.97 942.06,134.69 944,133.42 945.95,132.15 947.89,130.89 949.84,129.63 951.78,128.38 953.73,127.14 955.67,125.9 957.62,124.66 959.56,123.43 961.51,122.21 963.45,120.99 965.4,119.78 967.34,118.57 969.29,117.37 971.23,116.17 973.18,114.98 975.12,113.8 977.07,112.62 979.01,111.45 980.96,110.28 982.9,109.11 984.85,107.96 986.79,106.81 988.74,105.66 990.68,104.52 992.63,103.38 994.57,102.25 996.52,101.13 998.46,100.01 1000.41,98.89 1002.35,97.78 1004.3,96.68 1006.24,95.58 1008.19,94.49 1010.13,93.4 1012.08,92.31 1014.02,91.24 1015.97,90.16 1017.91,89.09 1019.86,88.03 1021.8,86.97 1023.75,85.92 1025.69,84.87 1027.64,83.83 1029.58,82.79 1031.53,81.76 1033.47,80.73 1035.42,79.7 1037.36,78.69 1039.31,77.67 1041.25,76.66 1043.2,75.65 1045.14,74.65 1047.09,73.66 1049.03,72.66 1050.98,71.68 1052.92,70.69 1054.87,69.71 1056.81,68.74 1058.76,67.77 1060.7,66.8 1062.65,65.84 1064.59,64.88 1066.54,63.92 1068.48,62.97 1070.43,62.02 1072.37,61.08 1074.32,60.14 1076.26,59.2 1078.21,58.27 1080.15,57.34 1082.1,56.41 1084.04,55.49 1085.99,54.57 1087.93,53.65 1089.88,52.74 1091.82,51.83 1093.77,50.92 1095.71,50.02 1097.66,49.11 1099.6,48.21 1101.55,47.32 1103.49,46.42 1105.44,45.53 1107.38,44.64 1109.33,43.75 1111.27,42.87 1113.22,41.99 1115.16,41.11 1117.11,40.23 1119.05,39.35 1121,38.47" fill="none" stroke="#000" stroke-width="3.6" stroke-linecap="butt" stroke-linejoin="round" stroke-dasharray="13.3 5.9"/>
<polyline points="695.04,365.93 696.99,364.34 698.93,362.75 700.88,361.16 702.82,359.57 704.77,357.99 706.71,356.4 708.66,354.81 710.6,353.22 712.55,351.64 714.49,350.05 716.44,348.47 718.38,346.88 720.33,345.3 722.27,343.71 724.22,342.13 726.16,340.54 728.11,338.96 730.05,337.38 732,335.79 733.94,334.21 735.89,332.63 737.83,331.04 739.78,329.46 741.72,327.88 743.67,326.29 745.61,324.71 747.56,323.13 749.5,321.55 751.45,319.97 753.39,318.38 755.34,316.8 757.28,315.22 759.23,313.64 761.17,312.06 763.12,310.47 765.06,308.89 767.01,307.31 768.95,305.73 770.9,304.15 772.84,302.57 774.79,300.99 776.73,299.4 778.68,297.82 780.62,296.24 782.57,294.66 784.51,293.08 786.46,291.5 788.4,289.92 790.35,288.33 792.29,286.75 794.24,285.17 796.18,283.59 798.13,282.01 800.07,280.43 802.02,278.85 803.96,277.27 805.91,275.69 807.85,274.11 809.8,272.53 811.74,270.95 813.69,269.37 815.63,267.79 817.58,266.21 819.52,264.63 821.47,263.05 823.41,261.47 825.36,259.89 827.3,258.31 829.25,256.73 831.19,255.16 833.14,253.58 835.08,252 837.03,250.42 838.97,248.85 840.92,247.27 842.86,245.7 844.81,244.12 846.75,242.55 848.7,240.97 850.64,239.4 852.59,237.82 854.53,236.25 856.48,234.68 858.42,233.11 860.37,231.54 862.31,229.97 864.26,228.4 866.2,226.83 868.15,225.26 870.09,223.69 872.04,222.12 873.98,220.56 875.93,218.99 877.87,217.43 879.82,215.87 881.76,214.3 883.71,212.74 885.65,211.18 887.6,209.62 889.54,208.07 891.49,206.51 893.43,204.95 895.38,203.4 897.32,201.85 899.27,200.29 901.21,198.74 903.16,197.19 905.1,195.65 907.05,194.1 908.99,192.56 910.94,191.01 912.88,189.47 914.83,187.93 916.77,186.39 918.72,184.86 920.66,183.32 922.61,181.79 924.55,180.26 926.5,178.73 928.44,177.21 930.39,175.68 932.33,174.16 934.28,172.64 936.22,171.12 938.17,169.6 940.11,168.09 942.06,166.58 944,165.07 945.95,163.56 947.89,162.06 949.84,160.56 951.78,159.06 953.73,157.57 955.67,156.07 957.62,154.58 959.56,153.1 961.51,151.61 963.45,150.13 965.4,148.65 967.34,147.18 969.29,145.7 971.23,144.24 973.18,142.77 975.12,141.31 977.07,139.85 979.01,138.4 980.96,136.94 982.9,135.5 984.85,134.05 986.79,132.61 988.74,131.18 990.68,129.74 992.63,128.32 994.57,126.89 996.52,125.47 998.46,124.06 1000.41,122.65 1002.35,121.24 1004.3,119.84 1006.24,118.44 1008.19,117.04 1010.13,115.66 1012.08,114.27 1014.02,112.89 1015.97,111.52 1017.91,110.15 1019.86,108.79 1021.8,107.43 1023.75,106.07 1025.69,104.73 1027.64,103.38 1029.58,102.05 1031.53,100.71 1033.47,99.39 1035.42,98.07 1037.36,96.75 1039.31,95.45 1041.25,94.14 1043.2,92.85 1045.14,91.56 1047.09,90.27 1049.03,89 1050.98,87.73 1052.92,86.46 1054.87,85.2 1056.81,83.95 1058.76,82.71 1060.7,81.47 1062.65,80.24 1064.59,79.02 1066.54,77.8 1068.48,76.59 1070.43,75.39 1072.37,74.2 1074.32,73.01 1076.26,71.84 1078.21,70.67 1080.15,69.5 1082.1,68.35 1084.04,67.2 1085.99,66.07 1087.93,64.94 1089.88,63.82 1091.82,62.7 1093.77,61.6 1095.71,60.5 1097.66,59.42 1099.6,58.34 1101.55,57.27 1103.49,56.21 1105.44,55.16 1107.38,54.12 1109.33,53.09 1111.27,52.07 1113.22,51.06 1115.16,50.06 1117.11,49.07 1119.05,48.08 1121,47.11" fill="none" stroke="#000" stroke-width="3.6" stroke-linecap="butt" stroke-linejoin="round" stroke-dasharray="23.5 5.9 3.7 5.9"/>
</g>
<line x1="737.35" y1="382.6" x2="737.35" y2="388.8" stroke="#000" stroke-width="1.6" stroke-linecap="butt"/>
<line x1="948.9" y1="382.6" x2="948.9" y2="388.8" stroke="#000" stroke-width="1.6" stroke-linecap="butt"/>
<line x1="704.58" y1="382.6" x2="704.58" y2="386.5" stroke="#000" stroke-width="1.2" stroke-linecap="butt"/>
<line x1="716.85" y1="382.6" x2="716.85" y2="386.5" stroke="#000" stroke-width="1.2" stroke-linecap="butt"/>
<line x1="727.67" y1="382.6" x2="727.67" y2="386.5" stroke="#000" stroke-width="1.2" stroke-linecap="butt"/>
<line x1="801.03" y1="382.6" x2="801.03" y2="386.5" stroke="#000" stroke-width="1.2" stroke-linecap="butt"/>
<line x1="838.29" y1="382.6" x2="838.29" y2="386.5" stroke="#000" stroke-width="1.2" stroke-linecap="butt"/>
<line x1="864.72" y1="382.6" x2="864.72" y2="386.5" stroke="#000" stroke-width="1.2" stroke-linecap="butt"/>
<line x1="885.22" y1="382.6" x2="885.22" y2="386.5" stroke="#000" stroke-width="1.2" stroke-linecap="butt"/>
<line x1="901.97" y1="382.6" x2="901.97" y2="386.5" stroke="#000" stroke-width="1.2" stroke-linecap="butt"/>
<line x1="916.13" y1="382.6" x2="916.13" y2="386.5" stroke="#000" stroke-width="1.2" stroke-linecap="butt"/>
<line x1="928.4" y1="382.6" x2="928.4" y2="386.5" stroke="#000" stroke-width="1.2" stroke-linecap="butt"/>
<line x1="939.22" y1="382.6" x2="939.22" y2="386.5" stroke="#000" stroke-width="1.2" stroke-linecap="butt"/>
<line x1="1012.58" y1="382.6" x2="1012.58" y2="386.5" stroke="#000" stroke-width="1.2" stroke-linecap="butt"/>
<line x1="1049.84" y1="382.6" x2="1049.84" y2="386.5" stroke="#000" stroke-width="1.2" stroke-linecap="butt"/>
<line x1="1076.27" y1="382.6" x2="1076.27" y2="386.5" stroke="#000" stroke-width="1.2" stroke-linecap="butt"/>
<line x1="1096.77" y1="382.6" x2="1096.77" y2="386.5" stroke="#000" stroke-width="1.2" stroke-linecap="butt"/>
<line x1="1113.52" y1="382.6" x2="1113.52" y2="386.5" stroke="#000" stroke-width="1.2" stroke-linecap="butt"/>
<line x1="695" y1="350.91" x2="688.8" y2="350.91" stroke="#000" stroke-width="1.6" stroke-linecap="butt"/>
<line x1="695" y1="264.74" x2="688.8" y2="264.74" stroke="#000" stroke-width="1.6" stroke-linecap="butt"/>
<line x1="695" y1="178.57" x2="688.8" y2="178.57" stroke="#000" stroke-width="1.6" stroke-linecap="butt"/>
<line x1="695" y1="92.4" x2="688.8" y2="92.4" stroke="#000" stroke-width="1.6" stroke-linecap="butt"/>
<line x1="695" y1="376.85" x2="691.1" y2="376.85" stroke="#000" stroke-width="1.2" stroke-linecap="butt"/>
<line x1="695" y1="370.03" x2="691.1" y2="370.03" stroke="#000" stroke-width="1.2" stroke-linecap="butt"/>
<line x1="695" y1="364.26" x2="691.1" y2="364.26" stroke="#000" stroke-width="1.2" stroke-linecap="butt"/>
<line x1="695" y1="359.26" x2="691.1" y2="359.26" stroke="#000" stroke-width="1.2" stroke-linecap="butt"/>
<line x1="695" y1="354.85" x2="691.1" y2="354.85" stroke="#000" stroke-width="1.2" stroke-linecap="butt"/>
<line x1="695" y1="324.97" x2="691.1" y2="324.97" stroke="#000" stroke-width="1.2" stroke-linecap="butt"/>
<line x1="695" y1="309.8" x2="691.1" y2="309.8" stroke="#000" stroke-width="1.2" stroke-linecap="butt"/>
<line x1="695" y1="299.03" x2="691.1" y2="299.03" stroke="#000" stroke-width="1.2" stroke-linecap="butt"/>
<line x1="695" y1="290.68" x2="691.1" y2="290.68" stroke="#000" stroke-width="1.2" stroke-linecap="butt"/>
<line x1="695" y1="283.86" x2="691.1" y2="283.86" stroke="#000" stroke-width="1.2" stroke-linecap="butt"/>
<line x1="695" y1="278.09" x2="691.1" y2="278.09" stroke="#000" stroke-width="1.2" stroke-linecap="butt"/>
<line x1="695" y1="273.09" x2="691.1" y2="273.09" stroke="#000" stroke-width="1.2" stroke-linecap="butt"/>
<line x1="695" y1="268.68" x2="691.1" y2="268.68" stroke="#000" stroke-width="1.2" stroke-linecap="butt"/>
<line x1="695" y1="238.8" x2="691.1" y2="238.8" stroke="#000" stroke-width="1.2" stroke-linecap="butt"/>
<line x1="695" y1="223.63" x2="691.1" y2="223.63" stroke="#000" stroke-width="1.2" stroke-linecap="butt"/>
<line x1="695" y1="212.86" x2="691.1" y2="212.86" stroke="#000" stroke-width="1.2" stroke-linecap="butt"/>
<line x1="695" y1="204.51" x2="691.1" y2="204.51" stroke="#000" stroke-width="1.2" stroke-linecap="butt"/>
<line x1="695" y1="197.69" x2="691.1" y2="197.69" stroke="#000" stroke-width="1.2" stroke-linecap="butt"/>
<line x1="695" y1="191.92" x2="691.1" y2="191.92" stroke="#000" stroke-width="1.2" stroke-linecap="butt"/>
<line x1="695" y1="186.92" x2="691.1" y2="186.92" stroke="#000" stroke-width="1.2" stroke-linecap="butt"/>
<line x1="695" y1="182.51" x2="691.1" y2="182.51" stroke="#000" stroke-width="1.2" stroke-linecap="butt"/>
<line x1="695" y1="152.63" x2="691.1" y2="152.63" stroke="#000" stroke-width="1.2" stroke-linecap="butt"/>
<line x1="695" y1="137.46" x2="691.1" y2="137.46" stroke="#000" stroke-width="1.2" stroke-linecap="butt"/>
<line x1="695" y1="126.69" x2="691.1" y2="126.69" stroke="#000" stroke-width="1.2" stroke-linecap="butt"/>
<line x1="695" y1="118.34" x2="691.1" y2="118.34" stroke="#000" stroke-width="1.2" stroke-linecap="butt"/>
<line x1="695" y1="111.52" x2="691.1" y2="111.52" stroke="#000" stroke-width="1.2" stroke-linecap="butt"/>
<line x1="695" y1="105.75" x2="691.1" y2="105.75" stroke="#000" stroke-width="1.2" stroke-linecap="butt"/>
<line x1="695" y1="100.75" x2="691.1" y2="100.75" stroke="#000" stroke-width="1.2" stroke-linecap="butt"/>
<line x1="695" y1="96.34" x2="691.1" y2="96.34" stroke="#000" stroke-width="1.2" stroke-linecap="butt"/>
<line x1="695" y1="66.46" x2="691.1" y2="66.46" stroke="#000" stroke-width="1.2" stroke-linecap="butt"/>
<line x1="695" y1="51.29" x2="691.1" y2="51.29" stroke="#000" stroke-width="1.2" stroke-linecap="butt"/>
<line x1="695" y1="40.52" x2="691.1" y2="40.52" stroke="#000" stroke-width="1.2" stroke-linecap="butt"/>
<line x1="695" y1="32.17" x2="691.1" y2="32.17" stroke="#000" stroke-width="1.2" stroke-linecap="butt"/>
<line x1="695" y1="25.35" x2="691.1" y2="25.35" stroke="#000" stroke-width="1.2" stroke-linecap="butt"/>
<rect x="695" y="21.1" width="423.1" height="361.5" fill="none" stroke="#000" stroke-width="1.6" stroke-linejoin="miter"/>
<g font-family="'Liberation Serif', 'Times New Roman', serif" fill="#000">
<text font-size="26.0"><tspan x="99.59" y="415.6">10</tspan><tspan x="124.33" y="406.2" font-size="17.6">0</tspan></text>
<text font-size="26.0"><tspan x="205.85" y="415.6">10</tspan><tspan x="230.93" y="406.2" font-size="17.6">1</tspan></text>
<text font-size="26.0"><tspan x="311.49" y="415.6">10</tspan><tspan x="336.13" y="406.2" font-size="17.6">2</tspan></text>
<text font-size="26.0"><tspan x="417.23" y="415.6">10</tspan><tspan x="441.8" y="406.2" font-size="17.6">3</tspan></text>
<text font-size="26.0"><tspan x="522.63" y="415.6">10</tspan><tspan x="547.7" y="406.2" font-size="17.6">4</tspan></text>
<text font-size="26.0"><tspan x="54.54" y="391.4">10</tspan><tspan x="79.98" y="384.64" font-size="21.5">−</tspan><tspan x="91.33" y="382" font-size="17.6">1</tspan></text>
<text font-size="26.0"><tspan x="66.93" y="339.73">10</tspan><tspan x="91.67" y="330.33" font-size="17.6">0</tspan></text>
<text font-size="26.0"><tspan x="66.24" y="288.06">10</tspan><tspan x="91.33" y="278.66" font-size="17.6">1</tspan></text>
<text font-size="26.0"><tspan x="67.33" y="236.39">10</tspan><tspan x="91.97" y="226.99" font-size="17.6">2</tspan></text>
<text font-size="26.0"><tspan x="67.12" y="184.71">10</tspan><tspan x="91.69" y="175.31" font-size="17.6">3</tspan></text>
<text font-size="26.0"><tspan x="66.21" y="133.04">10</tspan><tspan x="91.27" y="123.64" font-size="17.6">4</tspan></text>
<text font-size="26.0"><tspan x="67.3" y="81.37">10</tspan><tspan x="91.69" y="71.97" font-size="17.6">5</tspan></text>
<text font-size="26.0"><tspan x="66.87" y="29.7">10</tspan><tspan x="91.52" y="20.3" font-size="17.6">6</tspan></text>
<text font-size="26.0"><tspan x="712.89" y="415.6">10</tspan><tspan x="738.33" y="408.84" font-size="21.5">−</tspan><tspan x="751.23" y="406.2" font-size="17.6">2</tspan></text>
<text font-size="26.0"><tspan x="925.64" y="415.6">10</tspan><tspan x="951.08" y="408.84" font-size="21.5">−</tspan><tspan x="962.44" y="406.2" font-size="17.6">1</tspan></text>
<text font-size="26.0"><tspan x="629.8" y="359.31">10</tspan><tspan x="655.24" y="352.55" font-size="21.5">−</tspan><tspan x="668.58" y="349.91" font-size="17.6">4</tspan></text>
<text font-size="26.0"><tspan x="630.72" y="273.14">10</tspan><tspan x="656.15" y="266.38" font-size="21.5">−</tspan><tspan x="668.99" y="263.74" font-size="17.6">3</tspan></text>
<text font-size="26.0"><tspan x="630.93" y="186.97">10</tspan><tspan x="656.37" y="180.21" font-size="21.5">−</tspan><tspan x="669.27" y="177.57" font-size="17.6">2</tspan></text>
<text font-size="26.0"><tspan x="632.14" y="100.8">10</tspan><tspan x="657.58" y="94.04" font-size="21.5">−</tspan><tspan x="668.93" y="91.4" font-size="17.6">1</tspan></text>
<text><tspan x="8.44" y="27.1" font-size="28.6">(</tspan><tspan x="18.05" y="27.1" font-size="28.6" font-style="italic">a</tspan><tspan x="34.08" y="27.1" font-size="28.6">)</tspan></text>
<text><tspan x="588.94" y="27.1" font-size="28.6">(</tspan><tspan x="598.84" y="27.1" font-size="28.6" font-style="italic">b</tspan><tspan x="614.08" y="27.1" font-size="28.6">)</tspan></text>
<text x="329.3" y="451.3" font-size="29.8" font-style="italic" text-anchor="middle">t</text>
<text x="906.7" y="455.7" font-size="29.4" text-anchor="middle">Parameter <tspan font-style="italic">ϵ</tspan></text>
<text transform="translate(617.6,202.1) rotate(-90)" font-size="30.2" text-anchor="middle">Growth rate <tspan font-style="italic">λ</tspan></text>
<text transform="translate(43.5,280.6) rotate(-90)"><tspan x="-2.92" y="-1" font-size="30.2" font-style="italic" stroke="#000" stroke-width="0.45">Ψ</tspan><tspan x="18.14" y="3" font-size="18.8" font-style="italic">(black)</tspan><tspan x="71.96" y="0" font-size="30">,</tspan> <tspan x="87.48" y="-1" font-size="30.2" font-style="italic" stroke="#000" stroke-width="0.45">Ψ</tspan><tspan x="94.59" y="-16" font-size="29">~</tspan><tspan x="110.04" y="3" font-size="18.8" font-style="italic" letter-spacing="0.4">(grey)</tspan></text>
</g>
<rect x="974.3" y="213.6" width="134.6" height="159.5" rx="3" ry="3" fill="#fff" stroke="#000" stroke-width="1.5"/>
<line x1="981.8" y1="227.1" x2="1018.8" y2="227.1" stroke="#000" stroke-width="3.6" stroke-linecap="square"/>
<line x1="981.8" y1="253.3" x2="1018.8" y2="253.3" stroke="#000" stroke-width="3.6" stroke-linecap="butt" stroke-dasharray="13.3 5.9"/>
<line x1="981.8" y1="278.9" x2="1018.8" y2="278.9" stroke="#000" stroke-width="3.6" stroke-linecap="butt" stroke-dasharray="23.5 5.9 3.7 5.9"/>
<g fill="#808080" stroke="#808080" stroke-width="0.8">
<rect x="994.6" y="300.3" width="11.6" height="11.6"/>
<circle cx="1000.4" cy="331.8" r="5.8"/>
<polygon points="1000.4,351.6 994.6,363.2 1006.2,363.2"/>
</g>
<g font-family="'Liberation Serif', 'Times New Roman', serif">
<text><tspan x="1030.62" y="231.3" font-size="20.5" font-style="italic">μ</tspan> <tspan x="1046.13" y="234.3" font-size="23.5">=</tspan> <tspan x="1064.46" y="231.3" font-size="19.3">0.03</tspan></text>
<text><tspan x="1030.62" y="256.6" font-size="20.5" font-style="italic">μ</tspan> <tspan x="1046.13" y="259.6" font-size="23.5">=</tspan> <tspan x="1064.46" y="256.6" font-size="19.3">0.1</tspan></text>
<text><tspan x="1030.62" y="282" font-size="20.5" font-style="italic">μ</tspan> <tspan x="1046.13" y="285" font-size="23.5">=</tspan> <tspan x="1064.46" y="282" font-size="19.3">0.3</tspan></text>
<text><tspan x="1030.62" y="309" font-size="20.5" font-style="italic">μ</tspan> <tspan x="1046.13" y="312" font-size="23.5">=</tspan> <tspan x="1064.46" y="309" font-size="19.3">0.03</tspan></text>
<text><tspan x="1030.62" y="334.3" font-size="20.5" font-style="italic">μ</tspan> <tspan x="1046.13" y="337.3" font-size="23.5">=</tspan> <tspan x="1064.46" y="334.3" font-size="19.3">0.1</tspan></text>
<text><tspan x="1030.62" y="359.6" font-size="20.5" font-style="italic">μ</tspan> <tspan x="1046.13" y="362.6" font-size="23.5">=</tspan> <tspan x="1064.46" y="359.6" font-size="19.3">0.3</tspan></text>
</g>
</svg>
</body></html>
